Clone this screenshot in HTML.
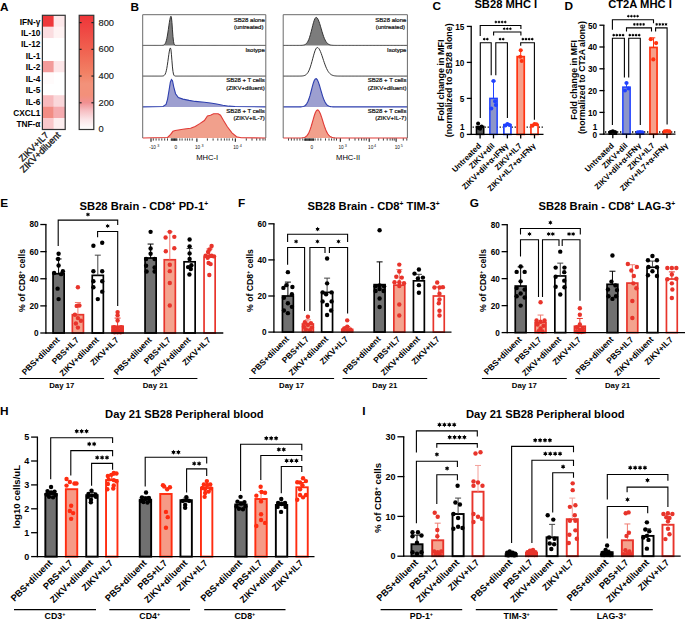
<!DOCTYPE html>
<html><head><meta charset="utf-8"><style>
html,body{margin:0;padding:0;background:#fff;}
svg{display:block;}
text{font-family:"Liberation Sans", sans-serif;}
</style></head><body>
<svg width="685" height="619" viewBox="0 0 685 619" font-family='"Liberation Sans", sans-serif'>
<rect width="685" height="619" fill="#fff"/>
<text x="0" y="10.5" font-size="11.8" font-weight="bold" text-anchor="start" fill="#000">A</text>
<rect x="42.4" y="15.3" width="11.4" height="11.62" fill="#ee383b" stroke="none" stroke-width="1.2"/>
<rect x="53.8" y="15.3" width="11.4" height="11.62" fill="#fde8ea" stroke="none" stroke-width="1.2"/>
<text x="40.4" y="24.61" font-size="8.3" font-weight="bold" text-anchor="end" fill="#000">IFN-γ</text>
<rect x="42.4" y="26.72" width="11.4" height="11.62" fill="#fbdde0" stroke="none" stroke-width="1.2"/>
<rect x="53.8" y="26.72" width="11.4" height="11.62" fill="#fff3f3" stroke="none" stroke-width="1.2"/>
<text x="40.4" y="36.03" font-size="8.3" font-weight="bold" text-anchor="end" fill="#000">IL-10</text>
<rect x="42.4" y="38.14" width="11.4" height="11.62" fill="#ffffff" stroke="none" stroke-width="1.2"/>
<rect x="53.8" y="38.14" width="11.4" height="11.62" fill="#ffffff" stroke="none" stroke-width="1.2"/>
<text x="40.4" y="47.45" font-size="8.3" font-weight="bold" text-anchor="end" fill="#000">IL-12</text>
<rect x="42.4" y="49.56" width="11.4" height="11.62" fill="#ffffff" stroke="none" stroke-width="1.2"/>
<rect x="53.8" y="49.56" width="11.4" height="11.62" fill="#ffffff" stroke="none" stroke-width="1.2"/>
<text x="40.4" y="58.87" font-size="8.3" font-weight="bold" text-anchor="end" fill="#000">IL-1</text>
<rect x="42.4" y="60.98" width="11.4" height="11.62" fill="#f39b9a" stroke="none" stroke-width="1.2"/>
<rect x="53.8" y="60.98" width="11.4" height="11.62" fill="#fde6e8" stroke="none" stroke-width="1.2"/>
<text x="40.4" y="70.29" font-size="8.3" font-weight="bold" text-anchor="end" fill="#000">IL-2</text>
<rect x="42.4" y="72.4" width="11.4" height="11.62" fill="#fffbfb" stroke="none" stroke-width="1.2"/>
<rect x="53.8" y="72.4" width="11.4" height="11.62" fill="#ffffff" stroke="none" stroke-width="1.2"/>
<text x="40.4" y="81.71" font-size="8.3" font-weight="bold" text-anchor="end" fill="#000">IL-4</text>
<rect x="42.4" y="83.82" width="11.4" height="11.62" fill="#ffffff" stroke="none" stroke-width="1.2"/>
<rect x="53.8" y="83.82" width="11.4" height="11.62" fill="#ffffff" stroke="none" stroke-width="1.2"/>
<text x="40.4" y="93.13" font-size="8.3" font-weight="bold" text-anchor="end" fill="#000">IL-5</text>
<rect x="42.4" y="95.24" width="11.4" height="11.62" fill="#f7b9bc" stroke="none" stroke-width="1.2"/>
<rect x="53.8" y="95.24" width="11.4" height="11.62" fill="#fad7da" stroke="none" stroke-width="1.2"/>
<text x="40.4" y="104.55" font-size="8.3" font-weight="bold" text-anchor="end" fill="#000">IL-6</text>
<rect x="42.4" y="106.66" width="11.4" height="11.62" fill="#f28c84" stroke="none" stroke-width="1.2"/>
<rect x="53.8" y="106.66" width="11.4" height="11.62" fill="#f5abaf" stroke="none" stroke-width="1.2"/>
<text x="40.4" y="115.97" font-size="8.3" font-weight="bold" text-anchor="end" fill="#000">CXCL1</text>
<rect x="42.4" y="118.08" width="11.4" height="11.62" fill="#f9c7ca" stroke="none" stroke-width="1.2"/>
<rect x="53.8" y="118.08" width="11.4" height="11.62" fill="#fdeeef" stroke="none" stroke-width="1.2"/>
<text x="40.4" y="127.39" font-size="8.3" font-weight="bold" text-anchor="end" fill="#000">TNF-α</text>
<rect x="42.4" y="15.3" width="22.8" height="114.2" fill="none" stroke="#333" stroke-width="1.2"/>
<text x="49.3" y="135.6" font-size="9.0" font-weight="normal" text-anchor="end" fill="#1a1a1a" transform="rotate(-45 49.3 135.6)" stroke="#1a1a1a" stroke-width="0.35">ZIKV+IL7</text>
<text x="61.1" y="135.8" font-size="9.2" font-weight="normal" text-anchor="end" fill="#1a1a1a" transform="rotate(-45 61.1 135.8)" stroke="#1a1a1a" stroke-width="0.35">ZIKV+diluent</text>
<defs><linearGradient id="cb" x1="0" y1="1" x2="0" y2="0"><stop offset="0" stop-color="#ffffff"/><stop offset="0.09" stop-color="#fbe3e6"/><stop offset="0.17" stop-color="#f6bcc0"/><stop offset="0.235" stop-color="#f19092"/><stop offset="0.3" stop-color="#f3907a"/><stop offset="0.4" stop-color="#f3927a"/><stop offset="0.5" stop-color="#f28064"/><stop offset="0.72" stop-color="#f05e4e"/><stop offset="0.9" stop-color="#ef4341"/><stop offset="1" stop-color="#ee3538"/></linearGradient></defs>
<rect x="79.2" y="15.3" width="14.6" height="114.2" fill="url(#cb)" stroke="#333" stroke-width="1.2"/>
<text x="98.5" y="131.8" font-size="9.3" font-weight="normal" text-anchor="start" fill="#1a1a1a" stroke="#1a1a1a" stroke-width="0.15">0</text>
<line x1="79.2" y1="102.78" x2="81.6" y2="102.78" stroke="#222" stroke-width="1.2"/>
<line x1="91.4" y1="102.78" x2="93.8" y2="102.78" stroke="#222" stroke-width="1.2"/>
<text x="98.5" y="105.88" font-size="9.3" font-weight="normal" text-anchor="start" fill="#1a1a1a" stroke="#1a1a1a" stroke-width="0.15">200</text>
<line x1="79.2" y1="76.05" x2="81.6" y2="76.05" stroke="#222" stroke-width="1.2"/>
<line x1="91.4" y1="76.05" x2="93.8" y2="76.05" stroke="#222" stroke-width="1.2"/>
<text x="98.5" y="79.15" font-size="9.3" font-weight="normal" text-anchor="start" fill="#1a1a1a" stroke="#1a1a1a" stroke-width="0.15">400</text>
<line x1="79.2" y1="49.33" x2="81.6" y2="49.33" stroke="#222" stroke-width="1.2"/>
<line x1="91.4" y1="49.33" x2="93.8" y2="49.33" stroke="#222" stroke-width="1.2"/>
<text x="98.5" y="52.43" font-size="9.3" font-weight="normal" text-anchor="start" fill="#1a1a1a" stroke="#1a1a1a" stroke-width="0.15">600</text>
<line x1="79.2" y1="22.6" x2="81.6" y2="22.6" stroke="#222" stroke-width="1.2"/>
<line x1="91.4" y1="22.6" x2="93.8" y2="22.6" stroke="#222" stroke-width="1.2"/>
<text x="98.5" y="25.7" font-size="9.3" font-weight="normal" text-anchor="start" fill="#1a1a1a" stroke="#1a1a1a" stroke-width="0.15">800</text>
<text x="130.5" y="10.5" font-size="11.8" font-weight="bold" text-anchor="start" fill="#000">B</text>
<path d="M142.7 45.4 L142.7 45.4 L143.21 45.4 L143.73 45.4 L144.24 45.4 L144.75 45.4 L145.26 45.4 L145.78 45.4 L146.29 45.4 L146.8 45.4 L147.32 45.4 L147.83 45.4 L148.34 45.4 L148.85 45.4 L149.37 45.4 L149.88 45.4 L150.39 45.4 L150.91 45.4 L151.42 45.4 L151.93 45.4 L152.45 45.4 L152.96 45.4 L153.47 45.4 L153.98 45.4 L154.5 45.4 L155.01 45.4 L155.52 45.4 L156.04 45.4 L156.55 45.4 L157.06 45.4 L157.57 45.4 L158.09 45.4 L158.6 45.4 L159.11 45.4 L159.63 45.4 L160.14 45.4 L160.65 45.4 L161.16 45.39 L161.68 45.38 L162.19 45.35 L162.7 45.3 L163.22 45.2 L163.73 45.02 L164.24 44.72 L164.76 44.23 L165.27 43.48 L165.78 42.36 L166.29 40.8 L166.81 38.72 L167.32 36.09 L167.83 32.97 L168.35 29.48 L168.86 25.86 L169.37 22.41 L169.88 19.45 L170.4 17.33 L170.91 16.28 L171.42 17.24 L171.94 22.5 L172.45 29.88 L172.96 36.64 L173.47 41.28 L173.99 43.79 L174.5 44.87 L175.01 45.26 L175.53 45.37 L176.04 45.39 L176.55 45.4 L177.07 45.4 L177.58 45.4 L178.09 45.4 L178.6 45.4 L179.12 45.4 L179.63 45.4 L180.14 45.4 L180.66 45.4 L181.17 45.4 L181.68 45.4 L182.19 45.4 L182.71 45.4 L183.22 45.4 L183.73 45.4 L184.25 45.4 L184.76 45.4 L185.27 45.4 L185.78 45.4 L186.3 45.4 L186.81 45.4 L187.32 45.4 L187.84 45.4 L188.35 45.4 L188.86 45.4 L189.38 45.4 L189.89 45.4 L190.4 45.4 L190.91 45.4 L191.43 45.4 L191.94 45.4 L192.45 45.4 L192.97 45.4 L193.48 45.4 L193.99 45.4 L194.5 45.4 L195.02 45.4 L195.53 45.4 L196.04 45.4 L196.56 45.4 L197.07 45.4 L197.58 45.4 L198.09 45.4 L198.61 45.4 L199.12 45.4 L199.63 45.4 L200.15 45.4 L200.66 45.4 L201.17 45.4 L201.69 45.4 L202.2 45.4 L202.71 45.4 L203.22 45.4 L203.74 45.4 L204.25 45.4 L204.76 45.4 L205.28 45.4 L205.79 45.4 L206.3 45.4 L206.81 45.4 L207.33 45.4 L207.84 45.4 L208.35 45.4 L208.87 45.4 L209.38 45.4 L209.89 45.4 L210.41 45.4 L210.92 45.4 L211.43 45.4 L211.94 45.4 L212.46 45.4 L212.97 45.4 L213.48 45.4 L214 45.4 L214.51 45.4 L215.02 45.4 L215.53 45.4 L216.05 45.4 L216.56 45.4 L217.07 45.4 L217.59 45.4 L218.1 45.4 L218.61 45.4 L219.12 45.4 L219.64 45.4 L220.15 45.4 L220.66 45.4 L221.18 45.4 L221.69 45.4 L222.2 45.4 L222.72 45.4 L223.23 45.4 L223.74 45.4 L224.25 45.4 L224.77 45.4 L225.28 45.4 L225.79 45.4 L226.31 45.4 L226.82 45.4 L227.33 45.4 L227.84 45.4 L228.36 45.4 L228.87 45.4 L229.38 45.4 L229.9 45.4 L230.41 45.4 L230.92 45.4 L231.43 45.4 L231.95 45.4 L232.46 45.4 L232.97 45.4 L233.49 45.4 L234 45.4 L234.51 45.4 L235.03 45.4 L235.54 45.4 L236.05 45.4 L236.56 45.4 L237.08 45.4 L237.59 45.4 L238.1 45.4 L238.62 45.4 L239.13 45.4 L239.64 45.4 L240.15 45.4 L240.67 45.4 L241.18 45.4 L241.69 45.4 L242.21 45.4 L242.72 45.4 L243.23 45.4 L243.74 45.4 L244.26 45.4 L244.77 45.4 L245.28 45.4 L245.8 45.4 L246.31 45.4 L246.82 45.4 L247.34 45.4 L247.85 45.4 L248.36 45.4 L248.87 45.4 L249.39 45.4 L249.9 45.4 L250.41 45.4 L250.93 45.4 L251.44 45.4 L251.95 45.4 L252.46 45.4 L252.98 45.4 L253.49 45.4 L254 45.4 L254.52 45.4 L255.03 45.4 L255.54 45.4 L256.05 45.4 L256.57 45.4 L257.08 45.4 L257.59 45.4 L258.11 45.4 L258.62 45.4 L259.13 45.4 L259.64 45.4 L260.16 45.4 L260.67 45.4 L261.18 45.4 L261.7 45.4 L262.21 45.4 L262.72 45.4 L263.24 45.4 L263.75 45.4 L264.26 45.4 L264.77 45.4 L265.29 45.4 L265.8 45.4 L265.8 45.4 Z" fill="#7c7c7c" stroke="none"/>
<path d="M142.7 45.4 L142.7 45.4 L143.21 45.4 L143.73 45.4 L144.24 45.4 L144.75 45.4 L145.26 45.4 L145.78 45.4 L146.29 45.4 L146.8 45.4 L147.32 45.4 L147.83 45.4 L148.34 45.4 L148.85 45.4 L149.37 45.4 L149.88 45.4 L150.39 45.4 L150.91 45.4 L151.42 45.4 L151.93 45.4 L152.45 45.4 L152.96 45.4 L153.47 45.4 L153.98 45.4 L154.5 45.4 L155.01 45.4 L155.52 45.4 L156.04 45.4 L156.55 45.4 L157.06 45.4 L157.57 45.4 L158.09 45.4 L158.6 45.4 L159.11 45.4 L159.63 45.4 L160.14 45.4 L160.65 45.4 L161.16 45.39 L161.68 45.38 L162.19 45.35 L162.7 45.3 L163.22 45.2 L163.73 45.02 L164.24 44.72 L164.76 44.23 L165.27 43.48 L165.78 42.36 L166.29 40.8 L166.81 38.72 L167.32 36.09 L167.83 32.97 L168.35 29.48 L168.86 25.86 L169.37 22.41 L169.88 19.45 L170.4 17.33 L170.91 16.28 L171.42 17.24 L171.94 22.5 L172.45 29.88 L172.96 36.64 L173.47 41.28 L173.99 43.79 L174.5 44.87 L175.01 45.26 L175.53 45.37 L176.04 45.39 L176.55 45.4 L177.07 45.4 L177.58 45.4 L178.09 45.4 L178.6 45.4 L179.12 45.4 L179.63 45.4 L180.14 45.4 L180.66 45.4 L181.17 45.4 L181.68 45.4 L182.19 45.4 L182.71 45.4 L183.22 45.4 L183.73 45.4 L184.25 45.4 L184.76 45.4 L185.27 45.4 L185.78 45.4 L186.3 45.4 L186.81 45.4 L187.32 45.4 L187.84 45.4 L188.35 45.4 L188.86 45.4 L189.38 45.4 L189.89 45.4 L190.4 45.4 L190.91 45.4 L191.43 45.4 L191.94 45.4 L192.45 45.4 L192.97 45.4 L193.48 45.4 L193.99 45.4 L194.5 45.4 L195.02 45.4 L195.53 45.4 L196.04 45.4 L196.56 45.4 L197.07 45.4 L197.58 45.4 L198.09 45.4 L198.61 45.4 L199.12 45.4 L199.63 45.4 L200.15 45.4 L200.66 45.4 L201.17 45.4 L201.69 45.4 L202.2 45.4 L202.71 45.4 L203.22 45.4 L203.74 45.4 L204.25 45.4 L204.76 45.4 L205.28 45.4 L205.79 45.4 L206.3 45.4 L206.81 45.4 L207.33 45.4 L207.84 45.4 L208.35 45.4 L208.87 45.4 L209.38 45.4 L209.89 45.4 L210.41 45.4 L210.92 45.4 L211.43 45.4 L211.94 45.4 L212.46 45.4 L212.97 45.4 L213.48 45.4 L214 45.4 L214.51 45.4 L215.02 45.4 L215.53 45.4 L216.05 45.4 L216.56 45.4 L217.07 45.4 L217.59 45.4 L218.1 45.4 L218.61 45.4 L219.12 45.4 L219.64 45.4 L220.15 45.4 L220.66 45.4 L221.18 45.4 L221.69 45.4 L222.2 45.4 L222.72 45.4 L223.23 45.4 L223.74 45.4 L224.25 45.4 L224.77 45.4 L225.28 45.4 L225.79 45.4 L226.31 45.4 L226.82 45.4 L227.33 45.4 L227.84 45.4 L228.36 45.4 L228.87 45.4 L229.38 45.4 L229.9 45.4 L230.41 45.4 L230.92 45.4 L231.43 45.4 L231.95 45.4 L232.46 45.4 L232.97 45.4 L233.49 45.4 L234 45.4 L234.51 45.4 L235.03 45.4 L235.54 45.4 L236.05 45.4 L236.56 45.4 L237.08 45.4 L237.59 45.4 L238.1 45.4 L238.62 45.4 L239.13 45.4 L239.64 45.4 L240.15 45.4 L240.67 45.4 L241.18 45.4 L241.69 45.4 L242.21 45.4 L242.72 45.4 L243.23 45.4 L243.74 45.4 L244.26 45.4 L244.77 45.4 L245.28 45.4 L245.8 45.4 L246.31 45.4 L246.82 45.4 L247.34 45.4 L247.85 45.4 L248.36 45.4 L248.87 45.4 L249.39 45.4 L249.9 45.4 L250.41 45.4 L250.93 45.4 L251.44 45.4 L251.95 45.4 L252.46 45.4 L252.98 45.4 L253.49 45.4 L254 45.4 L254.52 45.4 L255.03 45.4 L255.54 45.4 L256.05 45.4 L256.57 45.4 L257.08 45.4 L257.59 45.4 L258.11 45.4 L258.62 45.4 L259.13 45.4 L259.64 45.4 L260.16 45.4 L260.67 45.4 L261.18 45.4 L261.7 45.4 L262.21 45.4 L262.72 45.4 L263.24 45.4 L263.75 45.4 L264.26 45.4 L264.77 45.4 L265.29 45.4 L265.8 45.4 L265.8 45.4" fill="none" stroke="#333" stroke-width="1.0"/>
<text x="264.8" y="21.5" font-size="6.0" font-weight="normal" text-anchor="end" fill="#111" stroke="#111" stroke-width="0.22">SB28 alone</text>
<text x="263.4" y="28.6" font-size="6.0" font-weight="normal" text-anchor="end" fill="#111" stroke="#111" stroke-width="0.22">(untreated)</text>
<path d="M142.7 76.1 L142.7 76.1 L143.21 76.1 L143.73 76.1 L144.24 76.1 L144.75 76.1 L145.26 76.1 L145.78 76.1 L146.29 76.1 L146.8 76.1 L147.32 76.1 L147.83 76.1 L148.34 76.1 L148.85 76.1 L149.37 76.1 L149.88 76.1 L150.39 76.1 L150.91 76.1 L151.42 76.1 L151.93 76.1 L152.45 76.1 L152.96 76.1 L153.47 76.1 L153.98 76.1 L154.5 76.1 L155.01 76.1 L155.52 76.1 L156.04 76.1 L156.55 76.1 L157.06 76.1 L157.57 76.1 L158.09 76.1 L158.6 76.1 L159.11 76.1 L159.63 76.1 L160.14 76.1 L160.65 76.1 L161.16 76.09 L161.68 76.08 L162.19 76.06 L162.7 76.01 L163.22 75.91 L163.73 75.73 L164.24 75.4 L164.76 74.85 L165.27 73.98 L165.78 72.66 L166.29 70.8 L166.81 68.33 L167.32 65.26 L167.83 61.7 L168.35 57.91 L168.86 54.24 L169.37 51.1 L169.88 48.89 L170.4 47.93 L170.91 49.27 L171.42 54.19 L171.94 60.78 L172.45 66.94 L172.96 71.41 L173.47 74.04 L173.99 75.33 L174.5 75.85 L175.01 76.03 L175.53 76.08 L176.04 76.1 L176.55 76.1 L177.07 76.1 L177.58 76.1 L178.09 76.1 L178.6 76.1 L179.12 76.1 L179.63 76.1 L180.14 76.1 L180.66 76.1 L181.17 76.1 L181.68 76.1 L182.19 76.1 L182.71 76.1 L183.22 76.1 L183.73 76.1 L184.25 76.1 L184.76 76.1 L185.27 76.1 L185.78 76.1 L186.3 76.1 L186.81 76.1 L187.32 76.1 L187.84 76.1 L188.35 76.1 L188.86 76.1 L189.38 76.1 L189.89 76.1 L190.4 76.1 L190.91 76.1 L191.43 76.1 L191.94 76.1 L192.45 76.1 L192.97 76.1 L193.48 76.1 L193.99 76.1 L194.5 76.1 L195.02 76.1 L195.53 76.1 L196.04 76.1 L196.56 76.1 L197.07 76.1 L197.58 76.1 L198.09 76.1 L198.61 76.1 L199.12 76.1 L199.63 76.1 L200.15 76.1 L200.66 76.1 L201.17 76.1 L201.69 76.1 L202.2 76.1 L202.71 76.1 L203.22 76.1 L203.74 76.1 L204.25 76.1 L204.76 76.1 L205.28 76.1 L205.79 76.1 L206.3 76.1 L206.81 76.1 L207.33 76.1 L207.84 76.1 L208.35 76.1 L208.87 76.1 L209.38 76.1 L209.89 76.1 L210.41 76.1 L210.92 76.1 L211.43 76.1 L211.94 76.1 L212.46 76.1 L212.97 76.1 L213.48 76.1 L214 76.1 L214.51 76.1 L215.02 76.1 L215.53 76.1 L216.05 76.1 L216.56 76.1 L217.07 76.1 L217.59 76.1 L218.1 76.1 L218.61 76.1 L219.12 76.1 L219.64 76.1 L220.15 76.1 L220.66 76.1 L221.18 76.1 L221.69 76.1 L222.2 76.1 L222.72 76.1 L223.23 76.1 L223.74 76.1 L224.25 76.1 L224.77 76.1 L225.28 76.1 L225.79 76.1 L226.31 76.1 L226.82 76.1 L227.33 76.1 L227.84 76.1 L228.36 76.1 L228.87 76.1 L229.38 76.1 L229.9 76.1 L230.41 76.1 L230.92 76.1 L231.43 76.1 L231.95 76.1 L232.46 76.1 L232.97 76.1 L233.49 76.1 L234 76.1 L234.51 76.1 L235.03 76.1 L235.54 76.1 L236.05 76.1 L236.56 76.1 L237.08 76.1 L237.59 76.1 L238.1 76.1 L238.62 76.1 L239.13 76.1 L239.64 76.1 L240.15 76.1 L240.67 76.1 L241.18 76.1 L241.69 76.1 L242.21 76.1 L242.72 76.1 L243.23 76.1 L243.74 76.1 L244.26 76.1 L244.77 76.1 L245.28 76.1 L245.8 76.1 L246.31 76.1 L246.82 76.1 L247.34 76.1 L247.85 76.1 L248.36 76.1 L248.87 76.1 L249.39 76.1 L249.9 76.1 L250.41 76.1 L250.93 76.1 L251.44 76.1 L251.95 76.1 L252.46 76.1 L252.98 76.1 L253.49 76.1 L254 76.1 L254.52 76.1 L255.03 76.1 L255.54 76.1 L256.05 76.1 L256.57 76.1 L257.08 76.1 L257.59 76.1 L258.11 76.1 L258.62 76.1 L259.13 76.1 L259.64 76.1 L260.16 76.1 L260.67 76.1 L261.18 76.1 L261.7 76.1 L262.21 76.1 L262.72 76.1 L263.24 76.1 L263.75 76.1 L264.26 76.1 L264.77 76.1 L265.29 76.1 L265.8 76.1 L265.8 76.1" fill="none" stroke="#333" stroke-width="1.0"/>
<text x="264.8" y="52" font-size="6.0" font-weight="normal" text-anchor="end" fill="#111" stroke="#111" stroke-width="0.22">Isotype</text>
<path d="M142.7 106.9 L162.99 106.48 L166.06 104.49 L167.59 99.12 L169.12 89.93 L170.35 82.26 L171.42 79.5 L172.5 80.73 L173.72 86.86 L175.56 93.76 L178.32 97.59 L182.92 99.12 L189.05 100.35 L195.18 101.42 L204.38 102.19 L210.51 102.96 L216.64 104.03 L222.77 105.25 L228.9 106.17 L235.03 106.48 L265.8 106.9 Z" fill="#9d9fd0" stroke="none"/>
<path d="M142.7 106.9 L162.99 106.48 L166.06 104.49 L167.59 99.12 L169.12 89.93 L170.35 82.26 L171.42 79.5 L172.5 80.73 L173.72 86.86 L175.56 93.76 L178.32 97.59 L182.92 99.12 L189.05 100.35 L195.18 101.42 L204.38 102.19 L210.51 102.96 L216.64 104.03 L222.77 105.25 L228.9 106.17 L235.03 106.48 L265.8 106.9" fill="none" stroke="#2e3fae" stroke-width="1.1"/>
<text x="264.8" y="82.3" font-size="6.0" font-weight="normal" text-anchor="end" fill="#111" stroke="#111" stroke-width="0.22">SB28 + T cells</text>
<text x="264.8" y="89.5" font-size="6.0" font-weight="normal" text-anchor="end" fill="#111" stroke="#111" stroke-width="0.22">(ZIKV+diluent)</text>
<path d="M142.7 138 L167.59 137.44 L170.66 134.38 L172.96 131.31 L175.25 130.55 L179.85 129.78 L184.45 129.01 L190.58 128.25 L195.18 126.41 L199.78 123.65 L204.38 120.58 L207.44 115.98 L210.51 115.22 L213.57 113.68 L218.17 113.68 L220.47 115.22 L223.54 120.58 L227.37 126.71 L231.97 132.84 L236.57 136.68 L241.16 137.75 L265.8 138 Z" fill="#f1a08c" stroke="none"/>
<path d="M142.7 138 L167.59 137.44 L170.66 134.38 L172.96 131.31 L175.25 130.55 L179.85 129.78 L184.45 129.01 L190.58 128.25 L195.18 126.41 L199.78 123.65 L204.38 120.58 L207.44 115.98 L210.51 115.22 L213.57 113.68 L218.17 113.68 L220.47 115.22 L223.54 120.58 L227.37 126.71 L231.97 132.84 L236.57 136.68 L241.16 137.75 L265.8 138" fill="none" stroke="#e03a36" stroke-width="1.1"/>
<text x="264.8" y="113.3" font-size="6.0" font-weight="normal" text-anchor="end" fill="#111" stroke="#111" stroke-width="0.22">SB28 + T cells</text>
<text x="264.8" y="120.3" font-size="6.0" font-weight="normal" text-anchor="end" fill="#111" stroke="#111" stroke-width="0.22">(ZIKV+IL-7)</text>
<path d="M142.7 138 L142.7 14.7 L265.8 14.7 L265.8 138" fill="none" stroke="#6a6a6a" stroke-width="1.0"/>
<text x="207.2" y="159.5" font-size="7.6" font-weight="normal" text-anchor="middle" fill="#000">MHC-I</text>
<line x1="151" y1="138.4" x2="151" y2="141.8" stroke="#000" stroke-width="1.0"/>
<line x1="196.9" y1="138.4" x2="196.9" y2="141.8" stroke="#000" stroke-width="1.0"/>
<line x1="235.3" y1="138.4" x2="235.3" y2="141.8" stroke="#000" stroke-width="1.0"/>
<line x1="153.3" y1="138.4" x2="153.3" y2="140.6" stroke="#111" stroke-width="0.8"/>
<line x1="156.1" y1="138.4" x2="156.1" y2="140.6" stroke="#111" stroke-width="0.8"/>
<line x1="159" y1="138.4" x2="159" y2="140.6" stroke="#111" stroke-width="0.8"/>
<line x1="161.8" y1="138.4" x2="161.8" y2="140.6" stroke="#111" stroke-width="0.8"/>
<line x1="164.7" y1="138.4" x2="164.7" y2="140.6" stroke="#111" stroke-width="0.8"/>
<line x1="167.5" y1="138.4" x2="167.5" y2="140.6" stroke="#111" stroke-width="0.8"/>
<line x1="179.8" y1="138.4" x2="179.8" y2="140.6" stroke="#111" stroke-width="0.8"/>
<line x1="182.1" y1="138.4" x2="182.1" y2="140.6" stroke="#111" stroke-width="0.8"/>
<line x1="185.2" y1="138.4" x2="185.2" y2="140.6" stroke="#111" stroke-width="0.8"/>
<line x1="187.4" y1="138.4" x2="187.4" y2="140.6" stroke="#111" stroke-width="0.8"/>
<line x1="189.7" y1="138.4" x2="189.7" y2="140.6" stroke="#111" stroke-width="0.8"/>
<line x1="192.2" y1="138.4" x2="192.2" y2="140.6" stroke="#111" stroke-width="0.8"/>
<line x1="207.4" y1="138.4" x2="207.4" y2="140.6" stroke="#111" stroke-width="0.8"/>
<line x1="213.1" y1="138.4" x2="213.1" y2="140.6" stroke="#111" stroke-width="0.8"/>
<line x1="217.8" y1="138.4" x2="217.8" y2="140.6" stroke="#111" stroke-width="0.8"/>
<line x1="221.2" y1="138.4" x2="221.2" y2="140.6" stroke="#111" stroke-width="0.8"/>
<line x1="224.4" y1="138.4" x2="224.4" y2="140.6" stroke="#111" stroke-width="0.8"/>
<line x1="226.9" y1="138.4" x2="226.9" y2="140.6" stroke="#111" stroke-width="0.8"/>
<line x1="229.2" y1="138.4" x2="229.2" y2="140.6" stroke="#111" stroke-width="0.8"/>
<line x1="232.6" y1="138.4" x2="232.6" y2="140.6" stroke="#111" stroke-width="0.8"/>
<line x1="246.3" y1="138.4" x2="246.3" y2="140.6" stroke="#111" stroke-width="0.8"/>
<line x1="252" y1="138.4" x2="252" y2="140.6" stroke="#111" stroke-width="0.8"/>
<line x1="256.7" y1="138.4" x2="256.7" y2="140.6" stroke="#111" stroke-width="0.8"/>
<line x1="259.9" y1="138.4" x2="259.9" y2="140.6" stroke="#111" stroke-width="0.8"/>
<line x1="263" y1="138.4" x2="263" y2="140.6" stroke="#111" stroke-width="0.8"/>
<line x1="265.2" y1="138.4" x2="265.2" y2="140.6" stroke="#111" stroke-width="0.8"/>
<line x1="171.3" y1="138.4" x2="171.3" y2="140.8" stroke="#000" stroke-width="0.8"/>
<line x1="172.1" y1="138.4" x2="172.1" y2="140.8" stroke="#000" stroke-width="0.8"/>
<line x1="172.9" y1="138.4" x2="172.9" y2="140.8" stroke="#000" stroke-width="0.8"/>
<line x1="173.7" y1="138.4" x2="173.7" y2="140.8" stroke="#000" stroke-width="0.8"/>
<line x1="174.5" y1="138.4" x2="174.5" y2="140.8" stroke="#000" stroke-width="0.8"/>
<line x1="175.3" y1="138.4" x2="175.3" y2="140.8" stroke="#000" stroke-width="0.8"/>
<line x1="176.1" y1="138.4" x2="176.1" y2="140.8" stroke="#000" stroke-width="0.8"/>
<line x1="176.9" y1="138.4" x2="176.9" y2="140.8" stroke="#000" stroke-width="0.8"/>
<text x="152.6" y="149" font-size="4.7" font-weight="normal" text-anchor="middle" fill="#111">-10</text>
<text x="158.4" y="146.9" font-size="3.7" font-weight="normal" text-anchor="middle" fill="#111">3</text>
<text x="175.7" y="149" font-size="4.7" font-weight="normal" text-anchor="middle" fill="#111">0</text>
<text x="197.6" y="149" font-size="4.7" font-weight="normal" text-anchor="middle" fill="#111">10</text>
<text x="202.5" y="146.9" font-size="3.7" font-weight="normal" text-anchor="middle" fill="#111">3</text>
<text x="235.8" y="149" font-size="4.7" font-weight="normal" text-anchor="middle" fill="#111">10</text>
<text x="240.8" y="146.9" font-size="3.7" font-weight="normal" text-anchor="middle" fill="#111">4</text>
<path d="M283.2 45.4 L283.2 45.4 L283.98 45.4 L284.75 45.4 L285.53 45.4 L286.31 45.4 L287.08 45.4 L287.86 45.4 L288.63 45.4 L289.41 45.4 L290.19 45.4 L290.96 45.4 L291.74 45.4 L292.51 45.4 L293.29 45.4 L294.07 45.4 L294.84 45.4 L295.62 45.4 L296.4 45.4 L297.17 45.4 L297.95 45.4 L298.72 45.4 L299.5 45.39 L300.28 45.38 L301.05 45.36 L301.83 45.32 L302.61 45.25 L303.38 45.13 L304.16 44.94 L304.94 44.63 L305.71 44.16 L306.49 43.47 L307.26 42.49 L308.04 41.16 L308.82 39.43 L309.59 37.28 L310.37 34.72 L311.14 31.83 L311.92 28.74 L312.7 25.62 L313.47 22.72 L314.25 20.26 L315.03 18.47 L315.8 17.53 L316.58 17.48 L317.35 18.17 L318.13 19.49 L318.91 21.36 L319.68 23.65 L320.46 26.21 L321.24 28.89 L322.01 31.55 L322.79 34.06 L323.56 36.35 L324.34 38.36 L325.12 40.05 L325.89 41.44 L326.67 42.54 L327.45 43.39 L328.22 44.02 L329 44.48 L329.77 44.8 L330.55 45.02 L331.33 45.16 L332.1 45.26 L332.88 45.31 L333.66 45.35 L334.43 45.37 L335.21 45.38 L335.98 45.39 L336.76 45.4 L337.54 45.4 L338.31 45.4 L339.09 45.4 L339.87 45.4 L340.64 45.4 L341.42 45.4 L342.19 45.4 L342.97 45.4 L343.75 45.4 L344.52 45.4 L345.3 45.4 L346.08 45.4 L346.85 45.4 L347.63 45.4 L348.4 45.4 L349.18 45.4 L349.96 45.4 L350.73 45.4 L351.51 45.4 L352.29 45.4 L353.06 45.4 L353.84 45.4 L354.62 45.4 L355.39 45.4 L356.17 45.4 L356.94 45.4 L357.72 45.4 L358.5 45.4 L359.27 45.4 L360.05 45.4 L360.82 45.4 L361.6 45.4 L362.38 45.4 L363.15 45.4 L363.93 45.4 L364.71 45.4 L365.48 45.4 L366.26 45.4 L367.03 45.4 L367.81 45.4 L368.59 45.4 L369.36 45.4 L370.14 45.4 L370.92 45.4 L371.69 45.4 L372.47 45.4 L373.25 45.4 L374.02 45.4 L374.8 45.4 L375.57 45.4 L376.35 45.4 L377.13 45.4 L377.9 45.4 L378.68 45.4 L379.45 45.4 L380.23 45.4 L381.01 45.4 L381.78 45.4 L382.56 45.4 L383.34 45.4 L384.11 45.4 L384.89 45.4 L385.66 45.4 L386.44 45.4 L387.22 45.4 L387.99 45.4 L388.77 45.4 L389.55 45.4 L390.32 45.4 L391.1 45.4 L391.88 45.4 L392.65 45.4 L393.43 45.4 L394.2 45.4 L394.98 45.4 L395.76 45.4 L396.53 45.4 L397.31 45.4 L398.08 45.4 L398.86 45.4 L399.64 45.4 L400.41 45.4 L401.19 45.4 L401.97 45.4 L402.74 45.4 L403.52 45.4 L404.29 45.4 L405.07 45.4 L405.85 45.4 L406.62 45.4 L407.4 45.4 L407.4 45.4 Z" fill="#7c7c7c" stroke="none"/>
<path d="M283.2 45.4 L283.2 45.4 L283.98 45.4 L284.75 45.4 L285.53 45.4 L286.31 45.4 L287.08 45.4 L287.86 45.4 L288.63 45.4 L289.41 45.4 L290.19 45.4 L290.96 45.4 L291.74 45.4 L292.51 45.4 L293.29 45.4 L294.07 45.4 L294.84 45.4 L295.62 45.4 L296.4 45.4 L297.17 45.4 L297.95 45.4 L298.72 45.4 L299.5 45.39 L300.28 45.38 L301.05 45.36 L301.83 45.32 L302.61 45.25 L303.38 45.13 L304.16 44.94 L304.94 44.63 L305.71 44.16 L306.49 43.47 L307.26 42.49 L308.04 41.16 L308.82 39.43 L309.59 37.28 L310.37 34.72 L311.14 31.83 L311.92 28.74 L312.7 25.62 L313.47 22.72 L314.25 20.26 L315.03 18.47 L315.8 17.53 L316.58 17.48 L317.35 18.17 L318.13 19.49 L318.91 21.36 L319.68 23.65 L320.46 26.21 L321.24 28.89 L322.01 31.55 L322.79 34.06 L323.56 36.35 L324.34 38.36 L325.12 40.05 L325.89 41.44 L326.67 42.54 L327.45 43.39 L328.22 44.02 L329 44.48 L329.77 44.8 L330.55 45.02 L331.33 45.16 L332.1 45.26 L332.88 45.31 L333.66 45.35 L334.43 45.37 L335.21 45.38 L335.98 45.39 L336.76 45.4 L337.54 45.4 L338.31 45.4 L339.09 45.4 L339.87 45.4 L340.64 45.4 L341.42 45.4 L342.19 45.4 L342.97 45.4 L343.75 45.4 L344.52 45.4 L345.3 45.4 L346.08 45.4 L346.85 45.4 L347.63 45.4 L348.4 45.4 L349.18 45.4 L349.96 45.4 L350.73 45.4 L351.51 45.4 L352.29 45.4 L353.06 45.4 L353.84 45.4 L354.62 45.4 L355.39 45.4 L356.17 45.4 L356.94 45.4 L357.72 45.4 L358.5 45.4 L359.27 45.4 L360.05 45.4 L360.82 45.4 L361.6 45.4 L362.38 45.4 L363.15 45.4 L363.93 45.4 L364.71 45.4 L365.48 45.4 L366.26 45.4 L367.03 45.4 L367.81 45.4 L368.59 45.4 L369.36 45.4 L370.14 45.4 L370.92 45.4 L371.69 45.4 L372.47 45.4 L373.25 45.4 L374.02 45.4 L374.8 45.4 L375.57 45.4 L376.35 45.4 L377.13 45.4 L377.9 45.4 L378.68 45.4 L379.45 45.4 L380.23 45.4 L381.01 45.4 L381.78 45.4 L382.56 45.4 L383.34 45.4 L384.11 45.4 L384.89 45.4 L385.66 45.4 L386.44 45.4 L387.22 45.4 L387.99 45.4 L388.77 45.4 L389.55 45.4 L390.32 45.4 L391.1 45.4 L391.88 45.4 L392.65 45.4 L393.43 45.4 L394.2 45.4 L394.98 45.4 L395.76 45.4 L396.53 45.4 L397.31 45.4 L398.08 45.4 L398.86 45.4 L399.64 45.4 L400.41 45.4 L401.19 45.4 L401.97 45.4 L402.74 45.4 L403.52 45.4 L404.29 45.4 L405.07 45.4 L405.85 45.4 L406.62 45.4 L407.4 45.4 L407.4 45.4" fill="none" stroke="#333" stroke-width="1.0"/>
<text x="406.4" y="21.5" font-size="6.0" font-weight="normal" text-anchor="end" fill="#111" stroke="#111" stroke-width="0.22">SB28 alone</text>
<text x="405" y="28.6" font-size="6.0" font-weight="normal" text-anchor="end" fill="#111" stroke="#111" stroke-width="0.22">(untreated)</text>
<path d="M283.2 76.1 L283.2 76.1 L283.98 76.1 L284.75 76.1 L285.53 76.1 L286.31 76.1 L287.08 76.1 L287.86 76.1 L288.63 76.1 L289.41 76.1 L290.19 76.1 L290.96 76.1 L291.74 76.1 L292.51 76.1 L293.29 76.1 L294.07 76.1 L294.84 76.1 L295.62 76.1 L296.4 76.1 L297.17 76.1 L297.95 76.1 L298.72 76.09 L299.5 76.08 L300.28 76.07 L301.05 76.04 L301.83 76 L302.61 75.93 L303.38 75.81 L304.16 75.62 L304.94 75.33 L305.71 74.9 L306.49 74.29 L307.26 73.45 L308.04 72.33 L308.82 70.88 L309.59 69.07 L310.37 66.91 L311.14 64.42 L311.92 61.66 L312.7 58.76 L313.47 55.86 L314.25 53.14 L315.03 50.79 L315.8 48.98 L316.58 47.85 L317.35 47.5 L318.13 47.8 L318.91 48.62 L319.68 49.89 L320.46 51.57 L321.24 53.57 L322.01 55.78 L322.79 58.11 L323.56 60.47 L324.34 62.76 L325.12 64.93 L325.89 66.92 L326.67 68.69 L327.45 70.23 L328.22 71.54 L329 72.62 L329.77 73.49 L330.55 74.18 L331.33 74.72 L332.1 75.12 L332.88 75.42 L333.66 75.63 L334.43 75.79 L335.21 75.89 L335.98 75.97 L336.76 76.02 L337.54 76.05 L338.31 76.07 L339.09 76.08 L339.87 76.09 L340.64 76.09 L341.42 76.1 L342.19 76.1 L342.97 76.1 L343.75 76.1 L344.52 76.1 L345.3 76.1 L346.08 76.1 L346.85 76.1 L347.63 76.1 L348.4 76.1 L349.18 76.1 L349.96 76.1 L350.73 76.1 L351.51 76.1 L352.29 76.1 L353.06 76.1 L353.84 76.1 L354.62 76.1 L355.39 76.1 L356.17 76.1 L356.94 76.1 L357.72 76.1 L358.5 76.1 L359.27 76.1 L360.05 76.1 L360.82 76.1 L361.6 76.1 L362.38 76.1 L363.15 76.1 L363.93 76.1 L364.71 76.1 L365.48 76.1 L366.26 76.1 L367.03 76.1 L367.81 76.1 L368.59 76.1 L369.36 76.1 L370.14 76.1 L370.92 76.1 L371.69 76.1 L372.47 76.1 L373.25 76.1 L374.02 76.1 L374.8 76.1 L375.57 76.1 L376.35 76.1 L377.13 76.1 L377.9 76.1 L378.68 76.1 L379.45 76.1 L380.23 76.1 L381.01 76.1 L381.78 76.1 L382.56 76.1 L383.34 76.1 L384.11 76.1 L384.89 76.1 L385.66 76.1 L386.44 76.1 L387.22 76.1 L387.99 76.1 L388.77 76.1 L389.55 76.1 L390.32 76.1 L391.1 76.1 L391.88 76.1 L392.65 76.1 L393.43 76.1 L394.2 76.1 L394.98 76.1 L395.76 76.1 L396.53 76.1 L397.31 76.1 L398.08 76.1 L398.86 76.1 L399.64 76.1 L400.41 76.1 L401.19 76.1 L401.97 76.1 L402.74 76.1 L403.52 76.1 L404.29 76.1 L405.07 76.1 L405.85 76.1 L406.62 76.1 L407.4 76.1 L407.4 76.1" fill="none" stroke="#333" stroke-width="1.0"/>
<text x="406.4" y="52" font-size="6.0" font-weight="normal" text-anchor="end" fill="#111" stroke="#111" stroke-width="0.22">Isotype</text>
<path d="M283.2 106.9 L283.2 106.9 L284.24 106.9 L285.27 106.9 L286.31 106.9 L287.34 106.9 L288.38 106.9 L289.41 106.9 L290.44 106.9 L291.48 106.9 L292.51 106.9 L293.55 106.9 L294.58 106.9 L295.62 106.9 L296.65 106.9 L297.69 106.9 L298.72 106.89 L299.76 106.87 L300.79 106.83 L301.83 106.74 L302.87 106.57 L303.9 106.25 L304.94 105.68 L305.97 104.76 L307 103.33 L308.04 101.29 L309.07 98.54 L310.11 95.14 L311.14 91.24 L312.18 87.2 L313.21 83.47 L314.25 80.55 L315.28 78.88 L316.32 78.71 L317.35 79.86 L318.39 82.12 L319.43 85.22 L320.46 88.78 L321.5 92.43 L322.53 95.87 L323.56 98.87 L324.6 101.31 L325.63 103.19 L326.67 104.54 L327.7 105.47 L328.74 106.07 L329.77 106.44 L330.81 106.66 L331.84 106.78 L332.88 106.84 L333.91 106.87 L334.95 106.89 L335.99 106.9 L337.02 106.9 L338.06 106.9 L339.09 106.9 L340.12 106.9 L341.16 106.9 L342.19 106.9 L343.23 106.9 L344.26 106.9 L345.3 106.9 L346.33 106.9 L347.37 106.9 L348.4 106.9 L349.44 106.9 L350.47 106.9 L351.51 106.9 L352.54 106.9 L353.58 106.9 L354.62 106.9 L355.65 106.9 L356.68 106.9 L357.72 106.9 L358.75 106.9 L359.79 106.9 L360.82 106.9 L361.86 106.9 L362.89 106.9 L363.93 106.9 L364.96 106.9 L366 106.9 L367.03 106.9 L368.07 106.9 L369.1 106.9 L370.14 106.9 L371.17 106.9 L372.21 106.9 L373.25 106.9 L374.28 106.9 L375.31 106.9 L376.35 106.9 L377.38 106.9 L378.42 106.9 L379.45 106.9 L380.49 106.9 L381.52 106.9 L382.56 106.9 L383.59 106.9 L384.63 106.9 L385.66 106.9 L386.7 106.9 L387.74 106.9 L388.77 106.9 L389.8 106.9 L390.84 106.9 L391.88 106.9 L392.91 106.9 L393.94 106.9 L394.98 106.9 L396.01 106.9 L397.05 106.9 L398.08 106.9 L399.12 106.9 L400.15 106.9 L401.19 106.9 L402.22 106.9 L403.26 106.9 L404.29 106.9 L405.33 106.9 L406.37 106.9 L407.4 106.9 L407.4 106.9 Z" fill="#9d9fd0" stroke="none"/>
<path d="M283.2 106.9 L283.2 106.9 L284.24 106.9 L285.27 106.9 L286.31 106.9 L287.34 106.9 L288.38 106.9 L289.41 106.9 L290.44 106.9 L291.48 106.9 L292.51 106.9 L293.55 106.9 L294.58 106.9 L295.62 106.9 L296.65 106.9 L297.69 106.9 L298.72 106.89 L299.76 106.87 L300.79 106.83 L301.83 106.74 L302.87 106.57 L303.9 106.25 L304.94 105.68 L305.97 104.76 L307 103.33 L308.04 101.29 L309.07 98.54 L310.11 95.14 L311.14 91.24 L312.18 87.2 L313.21 83.47 L314.25 80.55 L315.28 78.88 L316.32 78.71 L317.35 79.86 L318.39 82.12 L319.43 85.22 L320.46 88.78 L321.5 92.43 L322.53 95.87 L323.56 98.87 L324.6 101.31 L325.63 103.19 L326.67 104.54 L327.7 105.47 L328.74 106.07 L329.77 106.44 L330.81 106.66 L331.84 106.78 L332.88 106.84 L333.91 106.87 L334.95 106.89 L335.99 106.9 L337.02 106.9 L338.06 106.9 L339.09 106.9 L340.12 106.9 L341.16 106.9 L342.19 106.9 L343.23 106.9 L344.26 106.9 L345.3 106.9 L346.33 106.9 L347.37 106.9 L348.4 106.9 L349.44 106.9 L350.47 106.9 L351.51 106.9 L352.54 106.9 L353.58 106.9 L354.62 106.9 L355.65 106.9 L356.68 106.9 L357.72 106.9 L358.75 106.9 L359.79 106.9 L360.82 106.9 L361.86 106.9 L362.89 106.9 L363.93 106.9 L364.96 106.9 L366 106.9 L367.03 106.9 L368.07 106.9 L369.1 106.9 L370.14 106.9 L371.17 106.9 L372.21 106.9 L373.25 106.9 L374.28 106.9 L375.31 106.9 L376.35 106.9 L377.38 106.9 L378.42 106.9 L379.45 106.9 L380.49 106.9 L381.52 106.9 L382.56 106.9 L383.59 106.9 L384.63 106.9 L385.66 106.9 L386.7 106.9 L387.74 106.9 L388.77 106.9 L389.8 106.9 L390.84 106.9 L391.88 106.9 L392.91 106.9 L393.94 106.9 L394.98 106.9 L396.01 106.9 L397.05 106.9 L398.08 106.9 L399.12 106.9 L400.15 106.9 L401.19 106.9 L402.22 106.9 L403.26 106.9 L404.29 106.9 L405.33 106.9 L406.37 106.9 L407.4 106.9 L407.4 106.9" fill="none" stroke="#2e3fae" stroke-width="1.1"/>
<text x="406.4" y="82.3" font-size="6.0" font-weight="normal" text-anchor="end" fill="#111" stroke="#111" stroke-width="0.22">SB28 + T cells</text>
<text x="406.4" y="89.5" font-size="6.0" font-weight="normal" text-anchor="end" fill="#111" stroke="#111" stroke-width="0.22">(ZIKV+diluent)</text>
<path d="M283.2 138 L283.2 138 L284.24 138 L285.27 138 L286.31 138 L287.34 138 L288.38 138 L289.41 138 L290.44 138 L291.48 138 L292.51 138 L293.55 138 L294.58 138 L295.62 138 L296.65 138 L297.69 138 L298.72 137.99 L299.76 137.97 L300.79 137.94 L301.83 137.88 L302.87 137.76 L303.9 137.53 L304.94 137.15 L305.97 136.52 L307 135.55 L308.04 134.13 L309.07 132.17 L310.11 129.62 L311.14 126.52 L312.18 122.99 L313.21 119.29 L314.25 115.76 L315.28 112.79 L316.32 110.75 L317.35 109.91 L318.39 110.3 L319.43 111.73 L320.46 114.03 L321.5 116.96 L322.53 120.24 L323.56 123.58 L324.6 126.74 L325.63 129.54 L326.67 131.89 L327.7 133.75 L328.74 135.16 L329.77 136.17 L330.81 136.87 L331.84 137.33 L332.88 137.62 L333.91 137.79 L334.95 137.89 L335.99 137.94 L337.02 137.97 L338.06 137.99 L339.09 137.99 L340.12 138 L341.16 138 L342.19 138 L343.23 138 L344.26 138 L345.3 138 L346.33 138 L347.37 138 L348.4 138 L349.44 138 L350.47 138 L351.51 138 L352.54 138 L353.58 138 L354.62 138 L355.65 138 L356.68 138 L357.72 138 L358.75 138 L359.79 138 L360.82 138 L361.86 138 L362.89 138 L363.93 138 L364.96 138 L366 138 L367.03 138 L368.07 138 L369.1 138 L370.14 138 L371.17 138 L372.21 138 L373.25 138 L374.28 138 L375.31 138 L376.35 138 L377.38 138 L378.42 138 L379.45 138 L380.49 138 L381.52 138 L382.56 138 L383.59 138 L384.63 138 L385.66 138 L386.7 138 L387.74 138 L388.77 138 L389.8 138 L390.84 138 L391.88 138 L392.91 138 L393.94 138 L394.98 138 L396.01 138 L397.05 138 L398.08 138 L399.12 138 L400.15 138 L401.19 138 L402.22 138 L403.26 138 L404.29 138 L405.33 138 L406.37 138 L407.4 138 L407.4 138 Z" fill="#f1a08c" stroke="none"/>
<path d="M283.2 138 L283.2 138 L284.24 138 L285.27 138 L286.31 138 L287.34 138 L288.38 138 L289.41 138 L290.44 138 L291.48 138 L292.51 138 L293.55 138 L294.58 138 L295.62 138 L296.65 138 L297.69 138 L298.72 137.99 L299.76 137.97 L300.79 137.94 L301.83 137.88 L302.87 137.76 L303.9 137.53 L304.94 137.15 L305.97 136.52 L307 135.55 L308.04 134.13 L309.07 132.17 L310.11 129.62 L311.14 126.52 L312.18 122.99 L313.21 119.29 L314.25 115.76 L315.28 112.79 L316.32 110.75 L317.35 109.91 L318.39 110.3 L319.43 111.73 L320.46 114.03 L321.5 116.96 L322.53 120.24 L323.56 123.58 L324.6 126.74 L325.63 129.54 L326.67 131.89 L327.7 133.75 L328.74 135.16 L329.77 136.17 L330.81 136.87 L331.84 137.33 L332.88 137.62 L333.91 137.79 L334.95 137.89 L335.99 137.94 L337.02 137.97 L338.06 137.99 L339.09 137.99 L340.12 138 L341.16 138 L342.19 138 L343.23 138 L344.26 138 L345.3 138 L346.33 138 L347.37 138 L348.4 138 L349.44 138 L350.47 138 L351.51 138 L352.54 138 L353.58 138 L354.62 138 L355.65 138 L356.68 138 L357.72 138 L358.75 138 L359.79 138 L360.82 138 L361.86 138 L362.89 138 L363.93 138 L364.96 138 L366 138 L367.03 138 L368.07 138 L369.1 138 L370.14 138 L371.17 138 L372.21 138 L373.25 138 L374.28 138 L375.31 138 L376.35 138 L377.38 138 L378.42 138 L379.45 138 L380.49 138 L381.52 138 L382.56 138 L383.59 138 L384.63 138 L385.66 138 L386.7 138 L387.74 138 L388.77 138 L389.8 138 L390.84 138 L391.88 138 L392.91 138 L393.94 138 L394.98 138 L396.01 138 L397.05 138 L398.08 138 L399.12 138 L400.15 138 L401.19 138 L402.22 138 L403.26 138 L404.29 138 L405.33 138 L406.37 138 L407.4 138 L407.4 138" fill="none" stroke="#e03a36" stroke-width="1.1"/>
<text x="406.4" y="113.3" font-size="6.0" font-weight="normal" text-anchor="end" fill="#111" stroke="#111" stroke-width="0.22">SB28 + T cells</text>
<text x="406.4" y="120.3" font-size="6.0" font-weight="normal" text-anchor="end" fill="#111" stroke="#111" stroke-width="0.22">(ZIKV+IL-7)</text>
<path d="M283.2 138 L283.2 14.7 L407.4 14.7 L407.4 138" fill="none" stroke="#6a6a6a" stroke-width="1.0"/>
<text x="348.1" y="159.5" font-size="7.6" font-weight="normal" text-anchor="middle" fill="#000">MHC-II</text>
<line x1="340.3" y1="138.4" x2="340.3" y2="141.8" stroke="#000" stroke-width="1.0"/>
<line x1="369.2" y1="138.4" x2="369.2" y2="141.8" stroke="#000" stroke-width="1.0"/>
<line x1="396.1" y1="138.4" x2="396.1" y2="141.8" stroke="#000" stroke-width="1.0"/>
<line x1="288.5" y1="138.4" x2="288.5" y2="140.6" stroke="#111" stroke-width="0.8"/>
<line x1="291.4" y1="138.4" x2="291.4" y2="140.6" stroke="#111" stroke-width="0.8"/>
<line x1="294.2" y1="138.4" x2="294.2" y2="140.6" stroke="#111" stroke-width="0.8"/>
<line x1="297.1" y1="138.4" x2="297.1" y2="140.6" stroke="#111" stroke-width="0.8"/>
<line x1="299.9" y1="138.4" x2="299.9" y2="140.6" stroke="#111" stroke-width="0.8"/>
<line x1="302.8" y1="138.4" x2="302.8" y2="140.6" stroke="#111" stroke-width="0.8"/>
<line x1="315.1" y1="138.4" x2="315.1" y2="140.6" stroke="#111" stroke-width="0.8"/>
<line x1="318" y1="138.4" x2="318" y2="140.6" stroke="#111" stroke-width="0.8"/>
<line x1="320.8" y1="138.4" x2="320.8" y2="140.6" stroke="#111" stroke-width="0.8"/>
<line x1="325.5" y1="138.4" x2="325.5" y2="140.6" stroke="#111" stroke-width="0.8"/>
<line x1="329" y1="138.4" x2="329" y2="140.6" stroke="#111" stroke-width="0.8"/>
<line x1="331.6" y1="138.4" x2="331.6" y2="140.6" stroke="#111" stroke-width="0.8"/>
<line x1="334.1" y1="138.4" x2="334.1" y2="140.6" stroke="#111" stroke-width="0.8"/>
<line x1="336.5" y1="138.4" x2="336.5" y2="140.6" stroke="#111" stroke-width="0.8"/>
<line x1="349.3" y1="138.4" x2="349.3" y2="140.6" stroke="#111" stroke-width="0.8"/>
<line x1="355" y1="138.4" x2="355" y2="140.6" stroke="#111" stroke-width="0.8"/>
<line x1="358.7" y1="138.4" x2="358.7" y2="140.6" stroke="#111" stroke-width="0.8"/>
<line x1="361.6" y1="138.4" x2="361.6" y2="140.6" stroke="#111" stroke-width="0.8"/>
<line x1="364.1" y1="138.4" x2="364.1" y2="140.6" stroke="#111" stroke-width="0.8"/>
<line x1="366.3" y1="138.4" x2="366.3" y2="140.6" stroke="#111" stroke-width="0.8"/>
<line x1="378.7" y1="138.4" x2="378.7" y2="140.6" stroke="#111" stroke-width="0.8"/>
<line x1="383.4" y1="138.4" x2="383.4" y2="140.6" stroke="#111" stroke-width="0.8"/>
<line x1="387.2" y1="138.4" x2="387.2" y2="140.6" stroke="#111" stroke-width="0.8"/>
<line x1="390.1" y1="138.4" x2="390.1" y2="140.6" stroke="#111" stroke-width="0.8"/>
<line x1="392.3" y1="138.4" x2="392.3" y2="140.6" stroke="#111" stroke-width="0.8"/>
<line x1="394.2" y1="138.4" x2="394.2" y2="140.6" stroke="#111" stroke-width="0.8"/>
<line x1="403.3" y1="138.4" x2="403.3" y2="140.6" stroke="#111" stroke-width="0.8"/>
<line x1="406.8" y1="138.4" x2="406.8" y2="140.6" stroke="#111" stroke-width="0.8"/>
<line x1="304.7" y1="138.4" x2="304.7" y2="140.8" stroke="#000" stroke-width="0.8"/>
<line x1="305.5" y1="138.4" x2="305.5" y2="140.8" stroke="#000" stroke-width="0.8"/>
<line x1="306.3" y1="138.4" x2="306.3" y2="140.8" stroke="#000" stroke-width="0.8"/>
<line x1="307.1" y1="138.4" x2="307.1" y2="140.8" stroke="#000" stroke-width="0.8"/>
<line x1="307.9" y1="138.4" x2="307.9" y2="140.8" stroke="#000" stroke-width="0.8"/>
<line x1="308.7" y1="138.4" x2="308.7" y2="140.8" stroke="#000" stroke-width="0.8"/>
<line x1="309.5" y1="138.4" x2="309.5" y2="140.8" stroke="#000" stroke-width="0.8"/>
<line x1="310.3" y1="138.4" x2="310.3" y2="140.8" stroke="#000" stroke-width="0.8"/>
<line x1="311.1" y1="138.4" x2="311.1" y2="140.8" stroke="#000" stroke-width="0.8"/>
<line x1="311.9" y1="138.4" x2="311.9" y2="140.8" stroke="#000" stroke-width="0.8"/>
<line x1="312.7" y1="138.4" x2="312.7" y2="140.8" stroke="#000" stroke-width="0.8"/>
<line x1="313.5" y1="138.4" x2="313.5" y2="140.8" stroke="#000" stroke-width="0.8"/>
<text x="311.9" y="149" font-size="4.7" font-weight="normal" text-anchor="middle" fill="#111">0</text>
<text x="341.1" y="149" font-size="4.7" font-weight="normal" text-anchor="middle" fill="#111">10</text>
<text x="345.7" y="146.9" font-size="3.7" font-weight="normal" text-anchor="middle" fill="#111">3</text>
<text x="370.7" y="149" font-size="4.7" font-weight="normal" text-anchor="middle" fill="#111">10</text>
<text x="375" y="146.9" font-size="3.7" font-weight="normal" text-anchor="middle" fill="#111">4</text>
<text x="397.3" y="149" font-size="4.7" font-weight="normal" text-anchor="middle" fill="#111">10</text>
<text x="401.8" y="146.9" font-size="3.7" font-weight="normal" text-anchor="middle" fill="#111">5</text>
<text x="432.6" y="10.3" font-size="11.8" font-weight="bold" text-anchor="start" fill="#000">C</text>
<text x="505.8" y="8.3" font-size="11.2" font-weight="bold" text-anchor="middle" fill="#000">SB28 MHC I</text>
<line x1="471.2" y1="26.4" x2="471.2" y2="134.4" stroke="#000" stroke-width="1.3"/>
<line x1="466.8" y1="134.4" x2="471.85" y2="134.4" stroke="#000" stroke-width="1.3"/>
<text x="464.4" y="137.84" font-size="8.2" font-weight="bold" text-anchor="end" fill="#000">0</text>
<line x1="466.8" y1="98.4" x2="471.85" y2="98.4" stroke="#000" stroke-width="1.3"/>
<text x="464.4" y="101.84" font-size="8.2" font-weight="bold" text-anchor="end" fill="#000">5</text>
<line x1="466.8" y1="62.4" x2="471.85" y2="62.4" stroke="#000" stroke-width="1.3"/>
<text x="464.4" y="65.84" font-size="8.2" font-weight="bold" text-anchor="end" fill="#000">10</text>
<line x1="466.8" y1="26.4" x2="471.85" y2="26.4" stroke="#000" stroke-width="1.3"/>
<text x="464.4" y="29.84" font-size="8.2" font-weight="bold" text-anchor="end" fill="#000">15</text>
<text x="464.6" y="129.5" font-size="8.2" font-weight="bold" text-anchor="end" fill="#000">1</text>
<text x="443.7" y="80.3" font-size="9.0" font-weight="bold" text-anchor="middle" fill="#000" transform="rotate(-90 443.7 80.3)">Fold change in MFI</text>
<text x="451.8" y="80.3" font-size="8.9" font-weight="bold" text-anchor="middle" fill="#000" transform="rotate(-90 451.8 80.3)">(normalized to SB28 alone)</text>
<line x1="472.6" y1="127.2" x2="544" y2="127.2" stroke="#000" stroke-width="1.3" stroke-dasharray="1.3 1.7"/>
<rect x="476.45" y="126.48" width="7.3" height="7.92" fill="#555" stroke="#000" stroke-width="1.5"/>
<rect x="489.85" y="98.4" width="7.3" height="36" fill="#8c95c9" stroke="#2142ff" stroke-width="1.5"/>
<rect x="503.85" y="124.68" width="7.1" height="9.72" fill="#fff" stroke="#2142ff" stroke-width="1.7"/>
<rect x="517.15" y="56.64" width="7.1" height="77.76" fill="#f6a08a" stroke="#ff3311" stroke-width="1.7"/>
<rect x="530.95" y="124.68" width="7.1" height="9.72" fill="#fff" stroke="#ff3311" stroke-width="1.7"/>
<line x1="493.5" y1="98.4" x2="493.5" y2="81.12" stroke="#2142ff" stroke-width="1.0"/>
<line x1="491.1" y1="81.12" x2="495.9" y2="81.12" stroke="#2142ff" stroke-width="1.0"/>
<line x1="520.7" y1="56.64" x2="520.7" y2="50.16" stroke="#ff3311" stroke-width="1.0"/>
<line x1="518.9" y1="50.16" x2="522.5" y2="50.16" stroke="#ff3311" stroke-width="1.0"/>
<circle cx="478.1" cy="123.6" r="2" fill="#000"/>
<circle cx="481.6" cy="126.48" r="2" fill="#000"/>
<circle cx="480.1" cy="128.64" r="2" fill="#000"/>
<circle cx="478.6" cy="127.92" r="2" fill="#000"/>
<circle cx="493.5" cy="81.12" r="2" fill="#2142ff"/>
<circle cx="495.8" cy="104.88" r="2" fill="#2142ff"/>
<circle cx="491.3" cy="108.48" r="2" fill="#2142ff"/>
<circle cx="495" cy="101.28" r="2" fill="#2142ff"/>
<circle cx="505.4" cy="125.4" r="2" fill="#2142ff"/>
<circle cx="507.4" cy="123.96" r="2" fill="#2142ff"/>
<circle cx="509.4" cy="125.04" r="2" fill="#2142ff"/>
<circle cx="520.7" cy="50.16" r="2" fill="#ff3311"/>
<circle cx="520.2" cy="56.64" r="2" fill="#ff3311"/>
<circle cx="521.7" cy="60.96" r="2" fill="#ff3311"/>
<circle cx="532.5" cy="125.76" r="2" fill="#ff3311"/>
<circle cx="534.5" cy="123.96" r="2" fill="#ff3311"/>
<circle cx="536.5" cy="124.32" r="2" fill="#ff3311"/>
<line x1="470.55" y1="134.4" x2="543.5" y2="134.4" stroke="#000" stroke-width="1.3"/>
<line x1="480.1" y1="134.4" x2="480.1" y2="138.4" stroke="#000" stroke-width="1.3"/>
<line x1="493.5" y1="134.4" x2="493.5" y2="138.4" stroke="#000" stroke-width="1.3"/>
<line x1="507.4" y1="134.4" x2="507.4" y2="138.4" stroke="#000" stroke-width="1.3"/>
<line x1="520.7" y1="134.4" x2="520.7" y2="138.4" stroke="#000" stroke-width="1.3"/>
<line x1="534.5" y1="134.4" x2="534.5" y2="138.4" stroke="#000" stroke-width="1.3"/>
<path d="M480.2 36 L480.2 25.5 L520.9 25.5 L520.9 28.9" fill="none" stroke="#000" stroke-width="1.1"/>
<path d="M495.9 20.35 L496.35 21.21 L497.33 21.18 L496.81 22 L497.33 22.82 L496.35 22.79 L495.9 23.65 L495.45 22.79 L494.47 22.82 L494.99 22 L494.47 21.18 L495.45 21.21 Z" fill="#000"/>
<path d="M499 20.35 L499.45 21.21 L500.43 21.18 L499.91 22 L500.43 22.82 L499.45 22.79 L499 23.65 L498.55 22.79 L497.57 22.82 L498.09 22 L497.57 21.18 L498.55 21.21 Z" fill="#000"/>
<path d="M502.1 20.35 L502.55 21.21 L503.53 21.18 L503.01 22 L503.53 22.82 L502.55 22.79 L502.1 23.65 L501.65 22.79 L500.67 22.82 L501.19 22 L500.67 21.18 L501.65 21.21 Z" fill="#000"/>
<path d="M505.2 20.35 L505.65 21.21 L506.63 21.18 L506.11 22 L506.63 22.82 L505.65 22.79 L505.2 23.65 L504.75 22.79 L503.77 22.82 L504.29 22 L503.77 21.18 L504.75 21.21 Z" fill="#000"/>
<path d="M493.6 35.5 L493.6 32 L520.9 32 L520.9 35.5" fill="none" stroke="#000" stroke-width="1.1"/>
<path d="M504.15 27.05 L504.6 27.91 L505.58 27.88 L505.06 28.7 L505.58 29.52 L504.6 29.49 L504.15 30.35 L503.7 29.49 L502.72 29.52 L503.24 28.7 L502.72 27.88 L503.7 27.91 Z" fill="#000"/>
<path d="M507.25 27.05 L507.7 27.91 L508.68 27.88 L508.16 28.7 L508.68 29.52 L507.7 29.49 L507.25 30.35 L506.8 29.49 L505.82 29.52 L506.34 28.7 L505.82 27.88 L506.8 27.91 Z" fill="#000"/>
<path d="M510.35 27.05 L510.8 27.91 L511.78 27.88 L511.26 28.7 L511.78 29.52 L510.8 29.49 L510.35 30.35 L509.9 29.49 L508.92 29.52 L509.44 28.7 L508.92 27.88 L509.9 27.91 Z" fill="#000"/>
<path d="M480.3 118 L480.3 42.7 L491.2 42.7 L491.2 75.2" fill="none" stroke="#000" stroke-width="1.1"/>
<path d="M484.2 37.45 L484.65 38.31 L485.63 38.27 L485.11 39.1 L485.63 39.93 L484.65 39.89 L484.2 40.75 L483.75 39.89 L482.77 39.93 L483.29 39.1 L482.77 38.27 L483.75 38.31 Z" fill="#000"/>
<path d="M487.3 37.45 L487.75 38.31 L488.73 38.27 L488.21 39.1 L488.73 39.93 L487.75 39.89 L487.3 40.75 L486.85 39.89 L485.87 39.93 L486.39 39.1 L485.87 38.27 L486.85 38.31 Z" fill="#000"/>
<path d="M495.8 75.2 L495.8 42.7 L507.4 42.7 L507.4 118" fill="none" stroke="#000" stroke-width="1.1"/>
<path d="M500.05 37.45 L500.5 38.31 L501.48 38.27 L500.96 39.1 L501.48 39.93 L500.5 39.89 L500.05 40.75 L499.6 39.89 L498.62 39.93 L499.14 39.1 L498.62 38.27 L499.6 38.31 Z" fill="#000"/>
<path d="M503.15 37.45 L503.6 38.31 L504.58 38.27 L504.06 39.1 L504.58 39.93 L503.6 39.89 L503.15 40.75 L502.7 39.89 L501.72 39.93 L502.24 39.1 L501.72 38.27 L502.7 38.31 Z" fill="#000"/>
<path d="M520.7 45.8 L520.7 42.7 L534.4 42.7 L534.4 119.7" fill="none" stroke="#000" stroke-width="1.1"/>
<path d="M522.9 37.45 L523.35 38.31 L524.33 38.27 L523.81 39.1 L524.33 39.93 L523.35 39.89 L522.9 40.75 L522.45 39.89 L521.47 39.93 L521.99 39.1 L521.47 38.27 L522.45 38.31 Z" fill="#000"/>
<path d="M526 37.45 L526.45 38.31 L527.43 38.27 L526.91 39.1 L527.43 39.93 L526.45 39.89 L526 40.75 L525.55 39.89 L524.57 39.93 L525.09 39.1 L524.57 38.27 L525.55 38.31 Z" fill="#000"/>
<path d="M529.1 37.45 L529.55 38.31 L530.53 38.27 L530.01 39.1 L530.53 39.93 L529.55 39.89 L529.1 40.75 L528.65 39.89 L527.67 39.93 L528.19 39.1 L527.67 38.27 L528.65 38.31 Z" fill="#000"/>
<path d="M532.2 37.45 L532.65 38.31 L533.63 38.27 L533.11 39.1 L533.63 39.93 L532.65 39.89 L532.2 40.75 L531.75 39.89 L530.77 39.93 L531.29 39.1 L530.77 38.27 L531.75 38.31 Z" fill="#000"/>
<text x="481.7" y="146.4" font-size="8.0" font-weight="bold" text-anchor="end" fill="#000" transform="rotate(-45 481.7 146.4)">Untreated</text>
<text x="495.1" y="146.4" font-size="8.0" font-weight="bold" text-anchor="end" fill="#000" transform="rotate(-45 495.1 146.4)">ZIKV+dil</text>
<text x="509" y="146.4" font-size="8.0" font-weight="bold" text-anchor="end" fill="#000" transform="rotate(-45 509 146.4)">ZIKV+dil+α-IFNγ</text>
<text x="522.3" y="146.4" font-size="8.0" font-weight="bold" text-anchor="end" fill="#000" transform="rotate(-45 522.3 146.4)">ZIKV+IL7</text>
<text x="536.1" y="146.4" font-size="8.0" font-weight="bold" text-anchor="end" fill="#000" transform="rotate(-45 536.1 146.4)">ZIKV+IL7+α-IFNγ</text>
<text x="564.5" y="10.3" font-size="11.8" font-weight="bold" text-anchor="start" fill="#000">D</text>
<text x="640" y="8.3" font-size="11.2" font-weight="bold" text-anchor="middle" fill="#000">CT2A MHC I</text>
<line x1="603.8" y1="25.2" x2="603.8" y2="134.2" stroke="#000" stroke-width="1.3"/>
<line x1="599.4" y1="134.2" x2="604.45" y2="134.2" stroke="#000" stroke-width="1.3"/>
<text x="597" y="137.64" font-size="8.2" font-weight="bold" text-anchor="end" fill="#000">0</text>
<line x1="599.4" y1="112.4" x2="604.45" y2="112.4" stroke="#000" stroke-width="1.3"/>
<text x="597" y="115.84" font-size="8.2" font-weight="bold" text-anchor="end" fill="#000">10</text>
<line x1="599.4" y1="90.6" x2="604.45" y2="90.6" stroke="#000" stroke-width="1.3"/>
<text x="597" y="94.04" font-size="8.2" font-weight="bold" text-anchor="end" fill="#000">20</text>
<line x1="599.4" y1="68.8" x2="604.45" y2="68.8" stroke="#000" stroke-width="1.3"/>
<text x="597" y="72.24" font-size="8.2" font-weight="bold" text-anchor="end" fill="#000">30</text>
<line x1="599.4" y1="47" x2="604.45" y2="47" stroke="#000" stroke-width="1.3"/>
<text x="597" y="50.44" font-size="8.2" font-weight="bold" text-anchor="end" fill="#000">40</text>
<line x1="599.4" y1="25.2" x2="604.45" y2="25.2" stroke="#000" stroke-width="1.3"/>
<text x="597" y="28.64" font-size="8.2" font-weight="bold" text-anchor="end" fill="#000">50</text>
<text x="597.2" y="129.9" font-size="8.2" font-weight="bold" text-anchor="end" fill="#000">1</text>
<text x="576.6" y="79.8" font-size="8.8" font-weight="bold" text-anchor="middle" fill="#000" transform="rotate(-90 576.6 79.8)">Fold change in MFI</text>
<text x="584.7" y="77.6" font-size="8.75" font-weight="bold" text-anchor="middle" fill="#000" transform="rotate(-90 584.7 77.6)">(normalized to CT2A alone)</text>
<line x1="605" y1="132.02" x2="676" y2="132.02" stroke="#000" stroke-width="1.3" stroke-dasharray="1.3 1.7"/>
<rect x="609.15" y="132.02" width="7.3" height="2.18" fill="#555" stroke="#000" stroke-width="1.5"/>
<rect x="622.85" y="87.11" width="7.3" height="47.09" fill="#8c95c9" stroke="#2142ff" stroke-width="1.5"/>
<rect x="636.35" y="132.46" width="7.3" height="1.74" fill="#fff" stroke="#2142ff" stroke-width="1.5"/>
<rect x="649.95" y="47.44" width="7.1" height="86.76" fill="#f6a08a" stroke="#ff3311" stroke-width="1.7"/>
<rect x="663.35" y="131.37" width="7.3" height="2.83" fill="#fff" stroke="#ff3311" stroke-width="1.5"/>
<line x1="626.5" y1="87.11" x2="626.5" y2="82.97" stroke="#2142ff" stroke-width="1.0"/>
<line x1="624.7" y1="82.97" x2="628.3" y2="82.97" stroke="#2142ff" stroke-width="1.0"/>
<line x1="653.5" y1="47.44" x2="653.5" y2="37.84" stroke="#ff3311" stroke-width="1.0"/>
<line x1="651.7" y1="37.84" x2="655.3" y2="37.84" stroke="#ff3311" stroke-width="1.0"/>
<circle cx="610.6" cy="132.02" r="2" fill="#000"/>
<circle cx="612.8" cy="131.37" r="2" fill="#000"/>
<circle cx="615" cy="132.02" r="2" fill="#000"/>
<circle cx="626.5" cy="82.97" r="2" fill="#2142ff"/>
<circle cx="628.5" cy="88.42" r="2" fill="#2142ff"/>
<circle cx="625" cy="90.6" r="2" fill="#2142ff"/>
<circle cx="637.8" cy="132.24" r="2" fill="#2142ff"/>
<circle cx="640" cy="132.02" r="2" fill="#2142ff"/>
<circle cx="642.2" cy="132.24" r="2" fill="#2142ff"/>
<circle cx="650.8" cy="39.15" r="2.1" fill="#ff3311"/>
<circle cx="656.1" cy="43.08" r="2.1" fill="#ff3311"/>
<circle cx="653.3" cy="59.43" r="2.1" fill="#ff3311"/>
<circle cx="664.8" cy="131.15" r="2" fill="#ff3311"/>
<circle cx="667" cy="130.93" r="2" fill="#ff3311"/>
<circle cx="669.2" cy="131.15" r="2" fill="#ff3311"/>
<line x1="603.15" y1="134.2" x2="675.5" y2="134.2" stroke="#000" stroke-width="1.3"/>
<line x1="612.8" y1="134.2" x2="612.8" y2="138.2" stroke="#000" stroke-width="1.3"/>
<line x1="626.5" y1="134.2" x2="626.5" y2="138.2" stroke="#000" stroke-width="1.3"/>
<line x1="640" y1="134.2" x2="640" y2="138.2" stroke="#000" stroke-width="1.3"/>
<line x1="653.5" y1="134.2" x2="653.5" y2="138.2" stroke="#000" stroke-width="1.3"/>
<line x1="667" y1="134.2" x2="667" y2="138.2" stroke="#000" stroke-width="1.3"/>
<path d="M612.4 29.7 L612.4 19.75 L653.5 19.75 L653.5 23.3" fill="none" stroke="#000" stroke-width="1.1"/>
<path d="M628.3 14.55 L628.75 15.41 L629.73 15.38 L629.21 16.2 L629.73 17.02 L628.75 16.99 L628.3 17.85 L627.85 16.99 L626.87 17.02 L627.39 16.2 L626.87 15.38 L627.85 15.41 Z" fill="#000"/>
<path d="M631.4 14.55 L631.85 15.41 L632.83 15.38 L632.31 16.2 L632.83 17.02 L631.85 16.99 L631.4 17.85 L630.95 16.99 L629.97 17.02 L630.49 16.2 L629.97 15.38 L630.95 15.41 Z" fill="#000"/>
<path d="M634.5 14.55 L634.95 15.41 L635.93 15.38 L635.41 16.2 L635.93 17.02 L634.95 16.99 L634.5 17.85 L634.05 16.99 L633.07 17.02 L633.59 16.2 L633.07 15.38 L634.05 15.41 Z" fill="#000"/>
<path d="M637.6 14.55 L638.05 15.41 L639.03 15.38 L638.51 16.2 L639.03 17.02 L638.05 16.99 L637.6 17.85 L637.15 16.99 L636.17 17.02 L636.69 16.2 L636.17 15.38 L637.15 15.41 Z" fill="#000"/>
<path d="M626.5 31.5 L626.5 27.9 L651.5 27.9 L651.5 31.5" fill="none" stroke="#000" stroke-width="1.1"/>
<path d="M634.35 22.75 L634.8 23.61 L635.78 23.57 L635.26 24.4 L635.78 25.22 L634.8 25.19 L634.35 26.05 L633.9 25.19 L632.92 25.22 L633.44 24.4 L632.92 23.57 L633.9 23.61 Z" fill="#000"/>
<path d="M637.45 22.75 L637.9 23.61 L638.88 23.57 L638.36 24.4 L638.88 25.22 L637.9 25.19 L637.45 26.05 L637 25.19 L636.02 25.22 L636.54 24.4 L636.02 23.57 L637 23.61 Z" fill="#000"/>
<path d="M640.55 22.75 L641 23.61 L641.98 23.57 L641.46 24.4 L641.98 25.22 L641 25.19 L640.55 26.05 L640.1 25.19 L639.12 25.22 L639.64 24.4 L639.12 23.57 L640.1 23.61 Z" fill="#000"/>
<path d="M643.65 22.75 L644.1 23.61 L645.08 23.57 L644.56 24.4 L645.08 25.22 L644.1 25.19 L643.65 26.05 L643.2 25.19 L642.22 25.22 L642.74 24.4 L642.22 23.57 L643.2 23.61 Z" fill="#000"/>
<path d="M655.6 31.5 L655.6 27.9 L667.1 27.9 L667.1 124.6" fill="none" stroke="#000" stroke-width="1.1"/>
<path d="M656.7 22.75 L657.15 23.61 L658.13 23.57 L657.61 24.4 L658.13 25.22 L657.15 25.19 L656.7 26.05 L656.25 25.19 L655.27 25.22 L655.79 24.4 L655.27 23.57 L656.25 23.61 Z" fill="#000"/>
<path d="M659.8 22.75 L660.25 23.61 L661.23 23.57 L660.71 24.4 L661.23 25.22 L660.25 25.19 L659.8 26.05 L659.35 25.19 L658.37 25.22 L658.89 24.4 L658.37 23.57 L659.35 23.61 Z" fill="#000"/>
<path d="M662.9 22.75 L663.35 23.61 L664.33 23.57 L663.81 24.4 L664.33 25.22 L663.35 25.19 L662.9 26.05 L662.45 25.19 L661.47 25.22 L661.99 24.4 L661.47 23.57 L662.45 23.61 Z" fill="#000"/>
<path d="M666 22.75 L666.45 23.61 L667.43 23.57 L666.91 24.4 L667.43 25.22 L666.45 25.19 L666 26.05 L665.55 25.19 L664.57 25.22 L665.09 24.4 L664.57 23.57 L665.55 23.61 Z" fill="#000"/>
<path d="M612.4 125.1 L612.4 38.3 L624.4 38.3 L624.4 77.6" fill="none" stroke="#000" stroke-width="1.1"/>
<path d="M613.75 33.45 L614.2 34.31 L615.18 34.27 L614.66 35.1 L615.18 35.93 L614.2 35.89 L613.75 36.75 L613.3 35.89 L612.32 35.93 L612.84 35.1 L612.32 34.27 L613.3 34.31 Z" fill="#000"/>
<path d="M616.85 33.45 L617.3 34.31 L618.28 34.27 L617.76 35.1 L618.28 35.93 L617.3 35.89 L616.85 36.75 L616.4 35.89 L615.42 35.93 L615.94 35.1 L615.42 34.27 L616.4 34.31 Z" fill="#000"/>
<path d="M619.95 33.45 L620.4 34.31 L621.38 34.27 L620.86 35.1 L621.38 35.93 L620.4 35.89 L619.95 36.75 L619.5 35.89 L618.52 35.93 L619.04 35.1 L618.52 34.27 L619.5 34.31 Z" fill="#000"/>
<path d="M623.05 33.45 L623.5 34.31 L624.48 34.27 L623.96 35.1 L624.48 35.93 L623.5 35.89 L623.05 36.75 L622.6 35.89 L621.62 35.93 L622.14 35.1 L621.62 34.27 L622.6 34.31 Z" fill="#000"/>
<path d="M628.7 77.6 L628.7 38.3 L640.3 38.3 L640.3 125.1" fill="none" stroke="#000" stroke-width="1.1"/>
<path d="M629.85 33.45 L630.3 34.31 L631.28 34.27 L630.76 35.1 L631.28 35.93 L630.3 35.89 L629.85 36.75 L629.4 35.89 L628.42 35.93 L628.94 35.1 L628.42 34.27 L629.4 34.31 Z" fill="#000"/>
<path d="M632.95 33.45 L633.4 34.31 L634.38 34.27 L633.86 35.1 L634.38 35.93 L633.4 35.89 L632.95 36.75 L632.5 35.89 L631.52 35.93 L632.04 35.1 L631.52 34.27 L632.5 34.31 Z" fill="#000"/>
<path d="M636.05 33.45 L636.5 34.31 L637.48 34.27 L636.96 35.1 L637.48 35.93 L636.5 35.89 L636.05 36.75 L635.6 35.89 L634.62 35.93 L635.14 35.1 L634.62 34.27 L635.6 34.31 Z" fill="#000"/>
<path d="M639.15 33.45 L639.6 34.31 L640.58 34.27 L640.06 35.1 L640.58 35.93 L639.6 35.89 L639.15 36.75 L638.7 35.89 L637.72 35.93 L638.24 35.1 L637.72 34.27 L638.7 34.31 Z" fill="#000"/>
<text x="614.4" y="146.2" font-size="8.0" font-weight="bold" text-anchor="end" fill="#000" transform="rotate(-45 614.4 146.2)">Untreated</text>
<text x="628.1" y="146.2" font-size="8.0" font-weight="bold" text-anchor="end" fill="#000" transform="rotate(-45 628.1 146.2)">ZIKV+dil</text>
<text x="641.6" y="146.2" font-size="8.0" font-weight="bold" text-anchor="end" fill="#000" transform="rotate(-45 641.6 146.2)">ZIKV+dil+α-IFNγ</text>
<text x="655.1" y="146.2" font-size="8.0" font-weight="bold" text-anchor="end" fill="#000" transform="rotate(-45 655.1 146.2)">ZIKV+IL7</text>
<text x="668.6" y="146.2" font-size="8.0" font-weight="bold" text-anchor="end" fill="#000" transform="rotate(-45 668.6 146.2)">ZIKV+IL7+α-IFNγ</text>
<text x="0.3" y="207.3" font-size="11.8" font-weight="bold" text-anchor="start" fill="#000">E</text>
<text x="79.6" y="209.8" font-size="11.2" font-weight="bold" text-anchor="start" fill="#000">SB28 Brain - CD8<tspan dy="-4.26" font-size="6.72">+</tspan><tspan dy="4.26"> PD-1</tspan><tspan dy="-4.26" font-size="6.72">+</tspan></text>
<text x="24.9" y="280.5" font-size="8.7" font-weight="bold" text-anchor="middle" fill="#000" transform="rotate(-90 24.9 280.5)">% of CD8<tspan dy="-3.04" font-size="5.22">+</tspan><tspan dy="3.04"> cells</tspan></text>
<rect x="53.05" y="273.74" width="11.1" height="59.26" fill="#707070" stroke="#000" stroke-width="1.7"/>
<line x1="58.6" y1="273.74" x2="58.6" y2="258.96" stroke="#000" stroke-width="1.0"/>
<line x1="55.6" y1="258.96" x2="61.6" y2="258.96" stroke="#000" stroke-width="1.0"/>
<circle cx="58.6" cy="253.81" r="2.2" fill="#000"/>
<circle cx="58.1" cy="258.96" r="2.2" fill="#000"/>
<circle cx="58.6" cy="265.47" r="2.2" fill="#000"/>
<circle cx="62.9" cy="271.3" r="2.2" fill="#000"/>
<circle cx="54.1" cy="273.06" r="2.2" fill="#000"/>
<circle cx="61.1" cy="274.15" r="2.2" fill="#000"/>
<circle cx="57.6" cy="288.66" r="2.2" fill="#000"/>
<circle cx="58.6" cy="299.1" r="2.2" fill="#000"/>
<rect x="72.35" y="314.69" width="11.1" height="18.31" fill="#f4a38e" stroke="#e8342b" stroke-width="1.7"/>
<line x1="77.9" y1="314.69" x2="77.9" y2="302.49" stroke="#f07b70" stroke-width="1.0"/>
<line x1="74.9" y1="302.49" x2="80.9" y2="302.49" stroke="#f07b70" stroke-width="1.0"/>
<circle cx="77.9" cy="287.3" r="2.2" fill="#e8342b"/>
<circle cx="76.7" cy="305.88" r="2.2" fill="#e8342b"/>
<circle cx="79.4" cy="305.47" r="2.2" fill="#e8342b"/>
<circle cx="74.9" cy="314.69" r="2.2" fill="#e8342b"/>
<circle cx="77.9" cy="318.08" r="2.2" fill="#e8342b"/>
<circle cx="80.9" cy="320.8" r="2.2" fill="#e8342b"/>
<circle cx="75.9" cy="323.51" r="2.2" fill="#e8342b"/>
<circle cx="77.9" cy="327.58" r="2.2" fill="#e8342b"/>
<rect x="92.25" y="275.37" width="11.1" height="57.63" fill="#fff" stroke="#000" stroke-width="1.7"/>
<line x1="97.8" y1="275.37" x2="97.8" y2="255.17" stroke="#444" stroke-width="1.0"/>
<line x1="94.8" y1="255.17" x2="100.8" y2="255.17" stroke="#444" stroke-width="1.0"/>
<circle cx="93.4" cy="245.81" r="2.2" fill="#000"/>
<circle cx="102.2" cy="242.69" r="2.2" fill="#000"/>
<circle cx="93.4" cy="271.3" r="2.2" fill="#000"/>
<circle cx="102.2" cy="271.3" r="2.2" fill="#000"/>
<circle cx="93.4" cy="281.2" r="2.2" fill="#000"/>
<circle cx="102.2" cy="281.2" r="2.2" fill="#000"/>
<circle cx="93.4" cy="287.3" r="2.2" fill="#000"/>
<circle cx="102.2" cy="291.64" r="2.2" fill="#000"/>
<circle cx="97.8" cy="299.1" r="2.2" fill="#000"/>
<rect x="112.05" y="326.22" width="11.1" height="6.78" fill="#fff" stroke="#e8342b" stroke-width="1.7"/>
<line x1="117.6" y1="326.22" x2="117.6" y2="318.08" stroke="#e8342b" stroke-width="1.0"/>
<line x1="114.6" y1="318.08" x2="120.6" y2="318.08" stroke="#e8342b" stroke-width="1.0"/>
<circle cx="117.6" cy="312.12" r="2.2" fill="#e8342b"/>
<circle cx="117.6" cy="315.24" r="2.2" fill="#e8342b"/>
<circle cx="117.6" cy="320.52" r="2.2" fill="#e8342b"/>
<circle cx="114.1" cy="327.3" r="2.2" fill="#e8342b"/>
<circle cx="121.1" cy="327.3" r="2.2" fill="#e8342b"/>
<circle cx="117.6" cy="328.66" r="2.2" fill="#e8342b"/>
<circle cx="113.6" cy="330.56" r="2.2" fill="#e8342b"/>
<circle cx="116.1" cy="330.97" r="2.2" fill="#e8342b"/>
<circle cx="119.1" cy="330.97" r="2.2" fill="#e8342b"/>
<circle cx="121.6" cy="330.56" r="2.2" fill="#e8342b"/>
<circle cx="114.6" cy="332.32" r="2.2" fill="#e8342b"/>
<circle cx="120.6" cy="332.32" r="2.2" fill="#e8342b"/>
<circle cx="117.6" cy="332.32" r="2.2" fill="#e8342b"/>
<rect x="145.05" y="258.01" width="11.1" height="74.99" fill="#707070" stroke="#000" stroke-width="1.7"/>
<line x1="150.6" y1="258.01" x2="150.6" y2="244.05" stroke="#000" stroke-width="1.0"/>
<line x1="147.6" y1="244.05" x2="153.6" y2="244.05" stroke="#000" stroke-width="1.0"/>
<circle cx="150.6" cy="231.84" r="2.2" fill="#000"/>
<circle cx="150.6" cy="248.52" r="2.2" fill="#000"/>
<circle cx="150.6" cy="253.81" r="2.2" fill="#000"/>
<circle cx="146.1" cy="258.96" r="2.2" fill="#000"/>
<circle cx="154.6" cy="258.96" r="2.2" fill="#000"/>
<circle cx="146.1" cy="265.74" r="2.2" fill="#000"/>
<circle cx="154.6" cy="267.51" r="2.2" fill="#000"/>
<circle cx="146.6" cy="271.57" r="2.2" fill="#000"/>
<circle cx="154.6" cy="271.57" r="2.2" fill="#000"/>
<rect x="164.25" y="259.78" width="11.1" height="73.22" fill="#f4a38e" stroke="#e8342b" stroke-width="1.7"/>
<line x1="169.8" y1="259.78" x2="169.8" y2="231.84" stroke="#f07b70" stroke-width="1.0"/>
<line x1="166.8" y1="231.84" x2="172.8" y2="231.84" stroke="#f07b70" stroke-width="1.0"/>
<circle cx="169.8" cy="231.84" r="2.2" fill="#e8342b"/>
<circle cx="165.6" cy="237.54" r="2.2" fill="#e8342b"/>
<circle cx="174.3" cy="236.86" r="2.2" fill="#e8342b"/>
<circle cx="165.8" cy="251.23" r="2.2" fill="#e8342b"/>
<circle cx="174.3" cy="248.25" r="2.2" fill="#e8342b"/>
<circle cx="169.8" cy="264.79" r="2.2" fill="#e8342b"/>
<circle cx="169.8" cy="271.17" r="2.2" fill="#e8342b"/>
<circle cx="169.8" cy="282.96" r="2.2" fill="#e8342b"/>
<circle cx="169.8" cy="305.47" r="2.2" fill="#e8342b"/>
<rect x="184.05" y="261.81" width="11.1" height="71.19" fill="#fff" stroke="#000" stroke-width="1.7"/>
<line x1="189.6" y1="261.81" x2="189.6" y2="248.52" stroke="#444" stroke-width="1.0"/>
<line x1="186.6" y1="248.52" x2="192.6" y2="248.52" stroke="#444" stroke-width="1.0"/>
<circle cx="189.6" cy="239.44" r="2.2" fill="#000"/>
<circle cx="189.6" cy="246.35" r="2.2" fill="#000"/>
<circle cx="189.6" cy="253.4" r="2.2" fill="#000"/>
<circle cx="189.6" cy="258.96" r="2.2" fill="#000"/>
<circle cx="188.1" cy="267.1" r="2.2" fill="#000"/>
<circle cx="191.4" cy="265.2" r="2.2" fill="#000"/>
<circle cx="190.8" cy="269" r="2.2" fill="#000"/>
<circle cx="189.4" cy="274.56" r="2.2" fill="#000"/>
<rect x="204.05" y="257.06" width="11.1" height="75.94" fill="#fff" stroke="#e8342b" stroke-width="1.7"/>
<line x1="209.6" y1="257.06" x2="209.6" y2="248.93" stroke="#e8342b" stroke-width="1.0"/>
<line x1="206.6" y1="248.93" x2="212.6" y2="248.93" stroke="#e8342b" stroke-width="1.0"/>
<circle cx="211.6" cy="245.94" r="2.2" fill="#e8342b"/>
<circle cx="209.6" cy="249.47" r="2.2" fill="#e8342b"/>
<circle cx="208.1" cy="252.05" r="2.2" fill="#e8342b"/>
<circle cx="205.6" cy="255.71" r="2.2" fill="#e8342b"/>
<circle cx="208.6" cy="256.39" r="2.2" fill="#e8342b"/>
<circle cx="211.6" cy="255.71" r="2.2" fill="#e8342b"/>
<circle cx="214.1" cy="256.39" r="2.2" fill="#e8342b"/>
<circle cx="207.6" cy="257.74" r="2.2" fill="#e8342b"/>
<circle cx="208.6" cy="263.03" r="2.2" fill="#e8342b"/>
<circle cx="210.6" cy="264.12" r="2.2" fill="#e8342b"/>
<circle cx="209.3" cy="274.96" r="2.2" fill="#e8342b"/>
<line x1="45.9" y1="224.52" x2="45.9" y2="333" stroke="#000" stroke-width="1.3"/>
<line x1="40.3" y1="333" x2="46.55" y2="333" stroke="#000" stroke-width="1.3"/>
<text x="38.5" y="335.95" font-size="8.2" font-weight="bold" text-anchor="end" fill="#000">0</text>
<line x1="40.3" y1="305.88" x2="46.55" y2="305.88" stroke="#000" stroke-width="1.3"/>
<text x="38.5" y="308.83" font-size="8.2" font-weight="bold" text-anchor="end" fill="#000">20</text>
<line x1="40.3" y1="278.76" x2="46.55" y2="278.76" stroke="#000" stroke-width="1.3"/>
<text x="38.5" y="281.71" font-size="8.2" font-weight="bold" text-anchor="end" fill="#000">40</text>
<line x1="40.3" y1="251.64" x2="46.55" y2="251.64" stroke="#000" stroke-width="1.3"/>
<text x="38.5" y="254.59" font-size="8.2" font-weight="bold" text-anchor="end" fill="#000">60</text>
<line x1="40.3" y1="224.52" x2="46.55" y2="224.52" stroke="#000" stroke-width="1.3"/>
<text x="38.5" y="227.47" font-size="8.2" font-weight="bold" text-anchor="end" fill="#000">80</text>
<line x1="45.25" y1="333" x2="223.3" y2="333" stroke="#000" stroke-width="1.3"/>
<path d="M58.2 246 L58.2 220.1 L117.7 220.1 L117.7 225" fill="none" stroke="#000" stroke-width="1.1"/>
<path d="M87.95 212.15 L88.6 213.38 L89.99 213.32 L89.24 214.5 L89.99 215.68 L88.6 215.62 L87.95 216.85 L87.3 215.62 L85.91 215.68 L86.66 214.5 L85.91 213.32 L87.3 213.38 Z" fill="#000"/>
<path d="M97.6 237.3 L97.6 231.5 L117.7 231.5 L117.7 306" fill="none" stroke="#000" stroke-width="1.1"/>
<path d="M107.65 223.65 L108.3 224.88 L109.69 224.82 L108.94 226 L109.69 227.18 L108.3 227.12 L107.65 228.35 L107 227.12 L105.61 227.18 L106.36 226 L105.61 224.82 L107 224.88 Z" fill="#000"/>
<text x="60.2" y="340.5" font-size="8.4" font-weight="bold" text-anchor="end" fill="#000" transform="rotate(-45 60.2 340.5)">PBS+diluent</text>
<text x="79.5" y="340.5" font-size="8.4" font-weight="bold" text-anchor="end" fill="#000" transform="rotate(-45 79.5 340.5)">PBS+IL7</text>
<text x="99.4" y="340.5" font-size="8.4" font-weight="bold" text-anchor="end" fill="#000" transform="rotate(-45 99.4 340.5)">ZIKV+diluent</text>
<text x="119.2" y="340.5" font-size="8.4" font-weight="bold" text-anchor="end" fill="#000" transform="rotate(-45 119.2 340.5)">ZIKV+IL7</text>
<text x="152.2" y="340.5" font-size="8.4" font-weight="bold" text-anchor="end" fill="#000" transform="rotate(-45 152.2 340.5)">PBS+diluent</text>
<text x="171.4" y="340.5" font-size="8.4" font-weight="bold" text-anchor="end" fill="#000" transform="rotate(-45 171.4 340.5)">PBS+IL7</text>
<text x="191.2" y="340.5" font-size="8.4" font-weight="bold" text-anchor="end" fill="#000" transform="rotate(-45 191.2 340.5)">ZIKV+diluent</text>
<text x="211.2" y="340.5" font-size="8.4" font-weight="bold" text-anchor="end" fill="#000" transform="rotate(-45 211.2 340.5)">ZIKV+IL7</text>
<line x1="19.5" y1="378.5" x2="104.1" y2="378.5" stroke="#000" stroke-width="1.1"/>
<text x="61.8" y="388.2" font-size="7.8" font-weight="bold" text-anchor="middle" fill="#000">Day 17</text>
<line x1="113.2" y1="378.5" x2="197.4" y2="378.5" stroke="#000" stroke-width="1.1"/>
<text x="155.3" y="388.2" font-size="7.8" font-weight="bold" text-anchor="middle" fill="#000">Day 21</text>
<text x="238.1" y="207" font-size="11.8" font-weight="bold" text-anchor="start" fill="#000">F</text>
<text x="307.5" y="209.8" font-size="11.2" font-weight="bold" text-anchor="start" fill="#000">SB28 Brain - CD8<tspan dy="-4.26" font-size="6.72">+</tspan><tspan dy="4.26"> TIM-3</tspan><tspan dy="-4.26" font-size="6.72">+</tspan></text>
<text x="252.6" y="280.5" font-size="8.7" font-weight="bold" text-anchor="middle" fill="#000" transform="rotate(-90 252.6 280.5)">% of CD8<tspan dy="-3.04" font-size="5.22">+</tspan><tspan dy="3.04"> cells</tspan></text>
<rect x="282.45" y="296" width="10.9" height="36.1" fill="#707070" stroke="#000" stroke-width="1.7"/>
<line x1="287.9" y1="296" x2="287.9" y2="282.1" stroke="#000" stroke-width="1.0"/>
<line x1="284.9" y1="282.1" x2="290.9" y2="282.1" stroke="#000" stroke-width="1.0"/>
<circle cx="287.9" cy="272.17" r="2.2" fill="#000"/>
<circle cx="283.4" cy="287.88" r="2.2" fill="#000"/>
<circle cx="292.4" cy="286.98" r="2.2" fill="#000"/>
<circle cx="286.4" cy="285.17" r="2.2" fill="#000"/>
<circle cx="291.9" cy="294.2" r="2.2" fill="#000"/>
<circle cx="283.9" cy="297.81" r="2.2" fill="#000"/>
<circle cx="287.9" cy="303.22" r="2.2" fill="#000"/>
<circle cx="291.9" cy="306.83" r="2.2" fill="#000"/>
<circle cx="283.9" cy="310.44" r="2.2" fill="#000"/>
<circle cx="287.9" cy="313.15" r="2.2" fill="#000"/>
<rect x="302.45" y="323.98" width="10.9" height="8.12" fill="#f4a38e" stroke="#e8342b" stroke-width="1.7"/>
<line x1="307.9" y1="323.98" x2="307.9" y2="319.83" stroke="#f07b70" stroke-width="1.0"/>
<line x1="304.9" y1="319.83" x2="310.9" y2="319.83" stroke="#f07b70" stroke-width="1.0"/>
<circle cx="307.9" cy="316.76" r="2.2" fill="#e8342b"/>
<circle cx="304.9" cy="322.17" r="2.2" fill="#e8342b"/>
<circle cx="310.9" cy="323.08" r="2.2" fill="#e8342b"/>
<circle cx="307.9" cy="324.88" r="2.2" fill="#e8342b"/>
<circle cx="303.9" cy="326.69" r="2.2" fill="#e8342b"/>
<circle cx="311.9" cy="327.59" r="2.2" fill="#e8342b"/>
<circle cx="305.9" cy="329.39" r="2.2" fill="#e8342b"/>
<circle cx="309.9" cy="330.3" r="2.2" fill="#e8342b"/>
<rect x="321.65" y="292.39" width="10.9" height="39.71" fill="#fff" stroke="#000" stroke-width="1.7"/>
<line x1="327.1" y1="292.39" x2="327.1" y2="278.13" stroke="#444" stroke-width="1.0"/>
<line x1="324.1" y1="278.13" x2="330.1" y2="278.13" stroke="#444" stroke-width="1.0"/>
<circle cx="327.1" cy="258.46" r="2.2" fill="#000"/>
<circle cx="327.1" cy="283.37" r="2.2" fill="#000"/>
<circle cx="322.6" cy="292.39" r="2.2" fill="#000"/>
<circle cx="331.6" cy="292.39" r="2.2" fill="#000"/>
<circle cx="326.1" cy="294.2" r="2.2" fill="#000"/>
<circle cx="322.6" cy="301.42" r="2.2" fill="#000"/>
<circle cx="331.6" cy="301.42" r="2.2" fill="#000"/>
<circle cx="327.1" cy="305.03" r="2.2" fill="#000"/>
<circle cx="331.1" cy="310.44" r="2.2" fill="#000"/>
<circle cx="327.1" cy="314.95" r="2.2" fill="#000"/>
<rect x="341.75" y="329.39" width="10.9" height="2.71" fill="#fff" stroke="#e8342b" stroke-width="1.7"/>
<line x1="347.2" y1="329.39" x2="347.2" y2="326.69" stroke="#e8342b" stroke-width="1.0"/>
<line x1="344.2" y1="326.69" x2="350.2" y2="326.69" stroke="#e8342b" stroke-width="1.0"/>
<circle cx="347.2" cy="320.37" r="2.2" fill="#e8342b"/>
<circle cx="347.2" cy="326.69" r="2.2" fill="#e8342b"/>
<circle cx="344.2" cy="328.49" r="2.2" fill="#e8342b"/>
<circle cx="350.2" cy="329.39" r="2.2" fill="#e8342b"/>
<circle cx="343.2" cy="330.3" r="2.2" fill="#e8342b"/>
<circle cx="351.2" cy="330.66" r="2.2" fill="#e8342b"/>
<circle cx="347.2" cy="331.02" r="2.2" fill="#e8342b"/>
<rect x="374.15" y="284.63" width="10.9" height="47.47" fill="#707070" stroke="#000" stroke-width="1.7"/>
<line x1="379.6" y1="284.63" x2="379.6" y2="261.89" stroke="#000" stroke-width="1.0"/>
<line x1="376.6" y1="261.89" x2="382.6" y2="261.89" stroke="#000" stroke-width="1.0"/>
<circle cx="379.6" cy="230.3" r="2.2" fill="#000"/>
<circle cx="375.6" cy="286.25" r="2.2" fill="#000"/>
<circle cx="384.1" cy="286.25" r="2.2" fill="#000"/>
<circle cx="379.6" cy="285.35" r="2.2" fill="#000"/>
<circle cx="379.6" cy="288.96" r="2.2" fill="#000"/>
<circle cx="375.6" cy="290.95" r="2.2" fill="#000"/>
<circle cx="383.6" cy="290.95" r="2.2" fill="#000"/>
<circle cx="379.6" cy="298.53" r="2.2" fill="#000"/>
<circle cx="379.6" cy="307.01" r="2.2" fill="#000"/>
<rect x="393.85" y="285.17" width="10.9" height="46.93" fill="#f4a38e" stroke="#e8342b" stroke-width="1.7"/>
<line x1="399.3" y1="285.17" x2="399.3" y2="269.65" stroke="#f07b70" stroke-width="1.0"/>
<line x1="396.3" y1="269.65" x2="402.3" y2="269.65" stroke="#f07b70" stroke-width="1.0"/>
<circle cx="399.3" cy="264.59" r="2.2" fill="#e8342b"/>
<circle cx="399.3" cy="271.45" r="2.2" fill="#e8342b"/>
<circle cx="396.3" cy="276.69" r="2.2" fill="#e8342b"/>
<circle cx="401.8" cy="277.59" r="2.2" fill="#e8342b"/>
<circle cx="394.5" cy="282.28" r="2.2" fill="#e8342b"/>
<circle cx="399.3" cy="282.28" r="2.2" fill="#e8342b"/>
<circle cx="404" cy="283.18" r="2.2" fill="#e8342b"/>
<circle cx="399.3" cy="286.07" r="2.2" fill="#e8342b"/>
<circle cx="399.3" cy="304.48" r="2.2" fill="#e8342b"/>
<circle cx="399.3" cy="315.49" r="2.2" fill="#e8342b"/>
<rect x="413.45" y="280.84" width="10.9" height="51.26" fill="#fff" stroke="#000" stroke-width="1.7"/>
<line x1="418.9" y1="280.84" x2="418.9" y2="274.34" stroke="#444" stroke-width="1.0"/>
<line x1="415.9" y1="274.34" x2="421.9" y2="274.34" stroke="#444" stroke-width="1.0"/>
<circle cx="418.9" cy="269.47" r="2.2" fill="#000"/>
<circle cx="414.5" cy="273.62" r="2.2" fill="#000"/>
<circle cx="422.9" cy="277.59" r="2.2" fill="#000"/>
<circle cx="417.9" cy="278.49" r="2.2" fill="#000"/>
<circle cx="418.9" cy="285.17" r="2.2" fill="#000"/>
<circle cx="418.9" cy="292.75" r="2.2" fill="#000"/>
<rect x="433.35" y="296" width="10.9" height="36.1" fill="#fff" stroke="#e8342b" stroke-width="1.7"/>
<line x1="438.8" y1="296" x2="438.8" y2="286.98" stroke="#e8342b" stroke-width="1.0"/>
<line x1="435.8" y1="286.98" x2="441.8" y2="286.98" stroke="#e8342b" stroke-width="1.0"/>
<circle cx="437.2" cy="282.46" r="2.2" fill="#e8342b"/>
<circle cx="434.4" cy="287.52" r="2.2" fill="#e8342b"/>
<circle cx="439.7" cy="287.52" r="2.2" fill="#e8342b"/>
<circle cx="442.9" cy="287.16" r="2.2" fill="#e8342b"/>
<circle cx="439.5" cy="293.65" r="2.2" fill="#e8342b"/>
<circle cx="439.5" cy="299.43" r="2.2" fill="#e8342b"/>
<circle cx="438.8" cy="303.22" r="2.2" fill="#e8342b"/>
<circle cx="439.5" cy="310.8" r="2.2" fill="#e8342b"/>
<circle cx="439.5" cy="315.49" r="2.2" fill="#e8342b"/>
<line x1="273.9" y1="223.8" x2="273.9" y2="332.1" stroke="#000" stroke-width="1.3"/>
<line x1="268.3" y1="332.1" x2="274.55" y2="332.1" stroke="#000" stroke-width="1.3"/>
<text x="266.5" y="335.05" font-size="8.2" font-weight="bold" text-anchor="end" fill="#000">0</text>
<line x1="268.3" y1="296" x2="274.55" y2="296" stroke="#000" stroke-width="1.3"/>
<text x="266.5" y="298.95" font-size="8.2" font-weight="bold" text-anchor="end" fill="#000">20</text>
<line x1="268.3" y1="259.9" x2="274.55" y2="259.9" stroke="#000" stroke-width="1.3"/>
<text x="266.5" y="262.85" font-size="8.2" font-weight="bold" text-anchor="end" fill="#000">40</text>
<line x1="268.3" y1="223.8" x2="274.55" y2="223.8" stroke="#000" stroke-width="1.3"/>
<text x="266.5" y="226.75" font-size="8.2" font-weight="bold" text-anchor="end" fill="#000">60</text>
<line x1="273.25" y1="332.1" x2="451.5" y2="332.1" stroke="#000" stroke-width="1.3"/>
<path d="M287.6 242 L287.6 234.3 L347.6 234.3 L347.6 242" fill="none" stroke="#000" stroke-width="1.1"/>
<path d="M317.6 226.85 L318.25 228.08 L319.64 228.02 L318.89 229.2 L319.64 230.38 L318.25 230.32 L317.6 231.55 L316.95 230.32 L315.56 230.38 L316.31 229.2 L315.56 228.02 L316.95 228.08 Z" fill="#000"/>
<path d="M287.6 264.8 L287.6 247.5 L304.6 247.5 L304.6 311" fill="none" stroke="#000" stroke-width="1.1"/>
<path d="M296.1 239.15 L296.75 240.38 L298.14 240.32 L297.39 241.5 L298.14 242.68 L296.75 242.62 L296.1 243.85 L295.45 242.62 L294.06 242.68 L294.81 241.5 L294.06 240.32 L295.45 240.38 Z" fill="#000"/>
<path d="M309.9 311 L309.9 247.5 L325 247.5 L325 253" fill="none" stroke="#000" stroke-width="1.1"/>
<path d="M317.45 239.15 L318.1 240.38 L319.49 240.32 L318.74 241.5 L319.49 242.68 L318.1 242.62 L317.45 243.85 L316.8 242.62 L315.41 242.68 L316.16 241.5 L315.41 240.32 L316.8 240.38 Z" fill="#000"/>
<path d="M329.4 253 L329.4 247.5 L347.6 247.5 L347.6 313.5" fill="none" stroke="#000" stroke-width="1.1"/>
<path d="M338.5 239.15 L339.15 240.38 L340.54 240.32 L339.79 241.5 L340.54 242.68 L339.15 242.62 L338.5 243.85 L337.85 242.62 L336.46 242.68 L337.21 241.5 L336.46 240.32 L337.85 240.38 Z" fill="#000"/>
<text x="289.5" y="339.6" font-size="8.4" font-weight="bold" text-anchor="end" fill="#000" transform="rotate(-45 289.5 339.6)">PBS+diluent</text>
<text x="309.5" y="339.6" font-size="8.4" font-weight="bold" text-anchor="end" fill="#000" transform="rotate(-45 309.5 339.6)">PBS+IL7</text>
<text x="328.7" y="339.6" font-size="8.4" font-weight="bold" text-anchor="end" fill="#000" transform="rotate(-45 328.7 339.6)">ZIKV+diluent</text>
<text x="348.8" y="339.6" font-size="8.4" font-weight="bold" text-anchor="end" fill="#000" transform="rotate(-45 348.8 339.6)">ZIKV+IL7</text>
<text x="381.2" y="339.6" font-size="8.4" font-weight="bold" text-anchor="end" fill="#000" transform="rotate(-45 381.2 339.6)">PBS+diluent</text>
<text x="400.9" y="339.6" font-size="8.4" font-weight="bold" text-anchor="end" fill="#000" transform="rotate(-45 400.9 339.6)">PBS+IL7</text>
<text x="420.5" y="339.6" font-size="8.4" font-weight="bold" text-anchor="end" fill="#000" transform="rotate(-45 420.5 339.6)">ZIKV+diluent</text>
<text x="440.4" y="339.6" font-size="8.4" font-weight="bold" text-anchor="end" fill="#000" transform="rotate(-45 440.4 339.6)">ZIKV+IL7</text>
<line x1="249.2" y1="378.5" x2="334.1" y2="378.5" stroke="#000" stroke-width="1.1"/>
<text x="291.65" y="388.2" font-size="7.8" font-weight="bold" text-anchor="middle" fill="#000">Day 17</text>
<line x1="342.5" y1="378.5" x2="427.2" y2="378.5" stroke="#000" stroke-width="1.1"/>
<text x="384.85" y="388.2" font-size="7.8" font-weight="bold" text-anchor="middle" fill="#000">Day 21</text>
<text x="469.8" y="207" font-size="11.8" font-weight="bold" text-anchor="start" fill="#000">G</text>
<text x="538.5" y="209.8" font-size="11.2" font-weight="bold" text-anchor="start" fill="#000">SB28 Brain - CD8<tspan dy="-4.26" font-size="6.72">+</tspan><tspan dy="4.26"> LAG-3</tspan><tspan dy="-4.26" font-size="6.72">+</tspan></text>
<text x="485.9" y="280.5" font-size="8.7" font-weight="bold" text-anchor="middle" fill="#000" transform="rotate(-90 485.9 280.5)">% of CD8<tspan dy="-3.04" font-size="5.22">+</tspan><tspan dy="3.04"> cells</tspan></text>
<rect x="515.25" y="286.06" width="10.8" height="46.54" fill="#707070" stroke="#000" stroke-width="1.7"/>
<line x1="520.65" y1="286.06" x2="520.65" y2="266.9" stroke="#000" stroke-width="1.0"/>
<line x1="517.65" y1="266.9" x2="523.65" y2="266.9" stroke="#000" stroke-width="1.0"/>
<circle cx="520.65" cy="266.5" r="2.2" fill="#000"/>
<circle cx="516.65" cy="271.9" r="2.2" fill="#000"/>
<circle cx="524.65" cy="271.9" r="2.2" fill="#000"/>
<circle cx="520.65" cy="281.34" r="2.2" fill="#000"/>
<circle cx="516.65" cy="288.08" r="2.2" fill="#000"/>
<circle cx="524.65" cy="289.43" r="2.2" fill="#000"/>
<circle cx="520.65" cy="293.48" r="2.2" fill="#000"/>
<circle cx="516.65" cy="296.18" r="2.2" fill="#000"/>
<circle cx="524.65" cy="297.53" r="2.2" fill="#000"/>
<circle cx="520.65" cy="305.62" r="2.2" fill="#000"/>
<rect x="535.15" y="322.48" width="10.8" height="10.12" fill="#f4a38e" stroke="#e8342b" stroke-width="1.7"/>
<line x1="540.55" y1="322.48" x2="540.55" y2="315.06" stroke="#f07b70" stroke-width="1.0"/>
<line x1="537.55" y1="315.06" x2="543.55" y2="315.06" stroke="#f07b70" stroke-width="1.0"/>
<circle cx="540.55" cy="302.25" r="2.2" fill="#e8342b"/>
<circle cx="536.55" cy="320.46" r="2.2" fill="#e8342b"/>
<circle cx="544.55" cy="320.46" r="2.2" fill="#e8342b"/>
<circle cx="540.55" cy="321.81" r="2.2" fill="#e8342b"/>
<circle cx="537.55" cy="324.51" r="2.2" fill="#e8342b"/>
<circle cx="543.55" cy="325.86" r="2.2" fill="#e8342b"/>
<circle cx="540.55" cy="328.55" r="2.2" fill="#e8342b"/>
<circle cx="538.55" cy="331.25" r="2.2" fill="#e8342b"/>
<circle cx="542.55" cy="331.52" r="2.2" fill="#e8342b"/>
<rect x="554.85" y="275.94" width="10.8" height="56.66" fill="#fff" stroke="#000" stroke-width="1.7"/>
<line x1="560.25" y1="275.94" x2="560.25" y2="263.13" stroke="#444" stroke-width="1.0"/>
<line x1="557.25" y1="263.13" x2="563.25" y2="263.13" stroke="#444" stroke-width="1.0"/>
<circle cx="560.25" cy="251.66" r="2.2" fill="#000"/>
<circle cx="555.65" cy="267.58" r="2.2" fill="#000"/>
<circle cx="564.45" cy="267.58" r="2.2" fill="#000"/>
<circle cx="564.25" cy="272.16" r="2.2" fill="#000"/>
<circle cx="555.65" cy="276.75" r="2.2" fill="#000"/>
<circle cx="564.25" cy="280.66" r="2.2" fill="#000"/>
<circle cx="555.65" cy="286.73" r="2.2" fill="#000"/>
<circle cx="564.45" cy="287.27" r="2.2" fill="#000"/>
<circle cx="560.25" cy="294.56" r="2.2" fill="#000"/>
<rect x="574.45" y="326.26" width="10.8" height="6.34" fill="#fff" stroke="#e8342b" stroke-width="1.7"/>
<line x1="579.85" y1="326.26" x2="579.85" y2="318.44" stroke="#e8342b" stroke-width="1.0"/>
<line x1="576.85" y1="318.44" x2="582.85" y2="318.44" stroke="#e8342b" stroke-width="1.0"/>
<circle cx="579.85" cy="308.32" r="2.2" fill="#e8342b"/>
<circle cx="579.85" cy="314.79" r="2.2" fill="#e8342b"/>
<circle cx="579.85" cy="324.51" r="2.2" fill="#e8342b"/>
<circle cx="576.85" cy="327.2" r="2.2" fill="#e8342b"/>
<circle cx="582.85" cy="328.55" r="2.2" fill="#e8342b"/>
<circle cx="579.85" cy="329.36" r="2.2" fill="#e8342b"/>
<circle cx="576.35" cy="331.25" r="2.2" fill="#e8342b"/>
<circle cx="583.35" cy="331.52" r="2.2" fill="#e8342b"/>
<circle cx="578.35" cy="331.93" r="2.2" fill="#e8342b"/>
<circle cx="581.35" cy="331.93" r="2.2" fill="#e8342b"/>
<rect x="607.05" y="284.31" width="10.8" height="48.29" fill="#707070" stroke="#000" stroke-width="1.7"/>
<line x1="612.45" y1="284.31" x2="612.45" y2="271.22" stroke="#000" stroke-width="1.0"/>
<line x1="609.45" y1="271.22" x2="615.45" y2="271.22" stroke="#000" stroke-width="1.0"/>
<circle cx="612.45" cy="255.44" r="2.2" fill="#000"/>
<circle cx="611.45" cy="281.61" r="2.2" fill="#000"/>
<circle cx="615.45" cy="285.39" r="2.2" fill="#000"/>
<circle cx="607.95" cy="289.43" r="2.2" fill="#000"/>
<circle cx="616.95" cy="290.11" r="2.2" fill="#000"/>
<circle cx="608.45" cy="296.18" r="2.2" fill="#000"/>
<circle cx="615.95" cy="296.18" r="2.2" fill="#000"/>
<circle cx="612.45" cy="298.88" r="2.2" fill="#000"/>
<rect x="626.95" y="283.09" width="10.8" height="49.51" fill="#f4a38e" stroke="#e8342b" stroke-width="1.7"/>
<line x1="632.35" y1="283.09" x2="632.35" y2="264.75" stroke="#f07b70" stroke-width="1.0"/>
<line x1="629.35" y1="264.75" x2="635.35" y2="264.75" stroke="#f07b70" stroke-width="1.0"/>
<circle cx="627.85" cy="264.07" r="2.2" fill="#e8342b"/>
<circle cx="636.85" cy="267.04" r="2.2" fill="#e8342b"/>
<circle cx="631.35" cy="270.55" r="2.2" fill="#e8342b"/>
<circle cx="633.85" cy="275.94" r="2.2" fill="#e8342b"/>
<circle cx="633.35" cy="283.36" r="2.2" fill="#e8342b"/>
<circle cx="636.35" cy="288.22" r="2.2" fill="#e8342b"/>
<circle cx="632.35" cy="301.03" r="2.2" fill="#e8342b"/>
<circle cx="632.35" cy="318.03" r="2.2" fill="#e8342b"/>
<rect x="647.05" y="267.31" width="10.8" height="65.29" fill="#fff" stroke="#000" stroke-width="1.7"/>
<line x1="652.45" y1="267.31" x2="652.45" y2="261.1" stroke="#444" stroke-width="1.0"/>
<line x1="649.45" y1="261.1" x2="655.45" y2="261.1" stroke="#444" stroke-width="1.0"/>
<circle cx="652.45" cy="255.98" r="2.2" fill="#000"/>
<circle cx="647.95" cy="260.29" r="2.2" fill="#000"/>
<circle cx="656.95" cy="260.29" r="2.2" fill="#000"/>
<circle cx="648.45" cy="267.04" r="2.2" fill="#000"/>
<circle cx="656.95" cy="267.31" r="2.2" fill="#000"/>
<circle cx="652.45" cy="271.22" r="2.2" fill="#000"/>
<circle cx="647.95" cy="275.27" r="2.2" fill="#000"/>
<circle cx="656.95" cy="275.94" r="2.2" fill="#000"/>
<rect x="666.45" y="279.04" width="10.8" height="53.56" fill="#fff" stroke="#e8342b" stroke-width="1.7"/>
<line x1="671.85" y1="279.04" x2="671.85" y2="271.9" stroke="#e8342b" stroke-width="1.0"/>
<line x1="668.85" y1="271.9" x2="674.85" y2="271.9" stroke="#e8342b" stroke-width="1.0"/>
<circle cx="667.35" cy="267.98" r="2.2" fill="#e8342b"/>
<circle cx="671.85" cy="267.98" r="2.2" fill="#e8342b"/>
<circle cx="676.35" cy="267.98" r="2.2" fill="#e8342b"/>
<circle cx="671.85" cy="274.46" r="2.2" fill="#e8342b"/>
<circle cx="667.35" cy="279.18" r="2.2" fill="#e8342b"/>
<circle cx="676.35" cy="278.77" r="2.2" fill="#e8342b"/>
<circle cx="671.85" cy="283.36" r="2.2" fill="#e8342b"/>
<circle cx="672.35" cy="289.43" r="2.2" fill="#e8342b"/>
<circle cx="671.85" cy="297.93" r="2.2" fill="#e8342b"/>
<line x1="507.2" y1="224.68" x2="507.2" y2="332.6" stroke="#000" stroke-width="1.3"/>
<line x1="501.6" y1="332.6" x2="507.85" y2="332.6" stroke="#000" stroke-width="1.3"/>
<text x="499.8" y="335.55" font-size="8.2" font-weight="bold" text-anchor="end" fill="#000">0</text>
<line x1="501.6" y1="305.62" x2="507.85" y2="305.62" stroke="#000" stroke-width="1.3"/>
<text x="499.8" y="308.57" font-size="8.2" font-weight="bold" text-anchor="end" fill="#000">20</text>
<line x1="501.6" y1="278.64" x2="507.85" y2="278.64" stroke="#000" stroke-width="1.3"/>
<text x="499.8" y="281.59" font-size="8.2" font-weight="bold" text-anchor="end" fill="#000">40</text>
<line x1="501.6" y1="251.66" x2="507.85" y2="251.66" stroke="#000" stroke-width="1.3"/>
<text x="499.8" y="254.61" font-size="8.2" font-weight="bold" text-anchor="end" fill="#000">60</text>
<line x1="501.6" y1="224.68" x2="507.85" y2="224.68" stroke="#000" stroke-width="1.3"/>
<text x="499.8" y="227.63" font-size="8.2" font-weight="bold" text-anchor="end" fill="#000">80</text>
<line x1="506.55" y1="332.6" x2="685" y2="332.6" stroke="#000" stroke-width="1.3"/>
<path d="M520.5 234.6 L520.5 228.5 L580.3 228.5 L580.3 234.6" fill="none" stroke="#000" stroke-width="1.1"/>
<path d="M550.4 220.25 L551.05 221.48 L552.44 221.42 L551.69 222.6 L552.44 223.78 L551.05 223.72 L550.4 224.95 L549.75 223.72 L548.36 223.78 L549.11 222.6 L548.36 221.42 L549.75 221.48 Z" fill="#000"/>
<path d="M520.5 256.4 L520.5 239.7 L538.5 239.7 L538.5 297" fill="none" stroke="#000" stroke-width="1.1"/>
<path d="M529.5 231.65 L530.15 232.88 L531.54 232.82 L530.79 234 L531.54 235.18 L530.15 235.12 L529.5 236.35 L528.85 235.12 L527.46 235.18 L528.21 234 L527.46 232.82 L528.85 232.88 Z" fill="#000"/>
<path d="M542.5 297 L542.5 239.7 L559 239.7 L559 246" fill="none" stroke="#000" stroke-width="1.1"/>
<path d="M548.7 231.65 L549.35 232.88 L550.74 232.82 L549.99 234 L550.74 235.18 L549.35 235.12 L548.7 236.35 L548.05 235.12 L546.66 235.18 L547.41 234 L546.66 232.82 L548.05 232.88 Z" fill="#000"/>
<path d="M552.8 231.65 L553.45 232.88 L554.84 232.82 L554.09 234 L554.84 235.18 L553.45 235.12 L552.8 236.35 L552.15 235.12 L550.76 235.18 L551.51 234 L550.76 232.82 L552.15 232.88 Z" fill="#000"/>
<path d="M562.2 246 L562.2 239.7 L580 239.7 L580 300.8" fill="none" stroke="#000" stroke-width="1.1"/>
<path d="M569.05 231.65 L569.7 232.88 L571.09 232.82 L570.34 234 L571.09 235.18 L569.7 235.12 L569.05 236.35 L568.4 235.12 L567.01 235.18 L567.76 234 L567.01 232.82 L568.4 232.88 Z" fill="#000"/>
<path d="M573.15 231.65 L573.8 232.88 L575.19 232.82 L574.44 234 L575.19 235.18 L573.8 235.12 L573.15 236.35 L572.5 235.12 L571.11 235.18 L571.86 234 L571.11 232.82 L572.5 232.88 Z" fill="#000"/>
<text x="522.25" y="340.1" font-size="8.4" font-weight="bold" text-anchor="end" fill="#000" transform="rotate(-45 522.25 340.1)">PBS+diluent</text>
<text x="542.15" y="340.1" font-size="8.4" font-weight="bold" text-anchor="end" fill="#000" transform="rotate(-45 542.15 340.1)">PBS+IL7</text>
<text x="561.85" y="340.1" font-size="8.4" font-weight="bold" text-anchor="end" fill="#000" transform="rotate(-45 561.85 340.1)">ZIKV+diluent</text>
<text x="581.45" y="340.1" font-size="8.4" font-weight="bold" text-anchor="end" fill="#000" transform="rotate(-45 581.45 340.1)">ZIKV+IL7</text>
<text x="614.05" y="340.1" font-size="8.4" font-weight="bold" text-anchor="end" fill="#000" transform="rotate(-45 614.05 340.1)">PBS+diluent</text>
<text x="633.95" y="340.1" font-size="8.4" font-weight="bold" text-anchor="end" fill="#000" transform="rotate(-45 633.95 340.1)">PBS+IL7</text>
<text x="654.05" y="340.1" font-size="8.4" font-weight="bold" text-anchor="end" fill="#000" transform="rotate(-45 654.05 340.1)">ZIKV+diluent</text>
<text x="673.45" y="340.1" font-size="8.4" font-weight="bold" text-anchor="end" fill="#000" transform="rotate(-45 673.45 340.1)">ZIKV+IL7</text>
<line x1="481.9" y1="378.5" x2="566.8" y2="378.5" stroke="#000" stroke-width="1.1"/>
<text x="524.35" y="388.2" font-size="7.8" font-weight="bold" text-anchor="middle" fill="#000">Day 17</text>
<line x1="575.2" y1="378.5" x2="659.8" y2="378.5" stroke="#000" stroke-width="1.1"/>
<text x="617.5" y="388.2" font-size="7.8" font-weight="bold" text-anchor="middle" fill="#000">Day 21</text>
<text x="0" y="415" font-size="11.8" font-weight="bold" text-anchor="start" fill="#000">H</text>
<text x="105.1" y="418.2" font-size="11.2" font-weight="bold" text-anchor="start" fill="#000">Day 21 SB28 Peripheral blood</text>
<text x="20.4" y="496.7" font-size="9.6" font-weight="bold" text-anchor="middle" fill="#000" transform="rotate(-90 20.4 496.7)">log10 cells/uL</text>
<rect x="45.35" y="493.98" width="11.4" height="62.62" fill="#707070" stroke="#000" stroke-width="1.9"/>
<line x1="51.05" y1="493.98" x2="51.05" y2="491.59" stroke="#000" stroke-width="1.0"/>
<line x1="48.05" y1="491.59" x2="54.05" y2="491.59" stroke="#000" stroke-width="1.0"/>
<circle cx="51.05" cy="487.05" r="2.2" fill="#000"/>
<circle cx="47.55" cy="491.11" r="2.2" fill="#000"/>
<circle cx="54.55" cy="491.59" r="2.2" fill="#000"/>
<circle cx="51.05" cy="492.55" r="2.2" fill="#000"/>
<circle cx="46.55" cy="494.46" r="2.2" fill="#000"/>
<circle cx="55.55" cy="494.94" r="2.2" fill="#000"/>
<circle cx="49.05" cy="496.85" r="2.2" fill="#000"/>
<circle cx="53.05" cy="497.33" r="2.2" fill="#000"/>
<rect x="65.85" y="489.2" width="11.4" height="67.4" fill="#f69a86" stroke="#ff2c10" stroke-width="1.9"/>
<circle cx="66.55" cy="478.93" r="2.2" fill="#ff2c10"/>
<circle cx="69.85" cy="482.03" r="2.2" fill="#ff2c10"/>
<circle cx="74.45" cy="483.47" r="2.2" fill="#ff2c10"/>
<circle cx="76.45" cy="483.47" r="2.2" fill="#ff2c10"/>
<circle cx="66.55" cy="485.62" r="2.2" fill="#ff2c10"/>
<circle cx="71.15" cy="505.69" r="2.2" fill="#ff2c10"/>
<circle cx="69.85" cy="510.95" r="2.2" fill="#ff2c10"/>
<circle cx="73.15" cy="513.1" r="2.2" fill="#ff2c10"/>
<circle cx="71.15" cy="518.84" r="2.2" fill="#ff2c10"/>
<rect x="86.25" y="495.18" width="11.4" height="61.42" fill="#fff" stroke="#000" stroke-width="1.9"/>
<line x1="91.95" y1="495.18" x2="91.95" y2="492.55" stroke="#444" stroke-width="1.0"/>
<line x1="88.95" y1="492.55" x2="94.95" y2="492.55" stroke="#444" stroke-width="1.0"/>
<circle cx="91.55" cy="490.64" r="2.2" fill="#000"/>
<circle cx="88.45" cy="493.98" r="2.2" fill="#000"/>
<circle cx="95.45" cy="494.46" r="2.2" fill="#000"/>
<circle cx="91.95" cy="495.66" r="2.2" fill="#000"/>
<circle cx="87.95" cy="496.85" r="2.2" fill="#000"/>
<circle cx="95.95" cy="496.85" r="2.2" fill="#000"/>
<circle cx="90.95" cy="499.72" r="2.2" fill="#000"/>
<circle cx="90.85" cy="502.35" r="2.2" fill="#000"/>
<rect x="106.05" y="480.12" width="11.4" height="76.48" fill="#fff" stroke="#ff2c10" stroke-width="1.9"/>
<line x1="111.75" y1="480.12" x2="111.75" y2="475.34" stroke="#ff2c10" stroke-width="1.0"/>
<line x1="108.75" y1="475.34" x2="114.75" y2="475.34" stroke="#ff2c10" stroke-width="1.0"/>
<circle cx="113.75" cy="472.95" r="2.2" fill="#ff2c10"/>
<circle cx="116.45" cy="473.43" r="2.2" fill="#ff2c10"/>
<circle cx="107.85" cy="476.06" r="2.2" fill="#ff2c10"/>
<circle cx="111.25" cy="474.86" r="2.2" fill="#ff2c10"/>
<circle cx="108.65" cy="479.4" r="2.2" fill="#ff2c10"/>
<circle cx="113.75" cy="480.12" r="2.2" fill="#ff2c10"/>
<circle cx="116.45" cy="481.32" r="2.2" fill="#ff2c10"/>
<circle cx="107.85" cy="483.94" r="2.2" fill="#ff2c10"/>
<circle cx="113.75" cy="485.38" r="2.2" fill="#ff2c10"/>
<circle cx="107.35" cy="489.2" r="2.2" fill="#ff2c10"/>
<circle cx="113.25" cy="488.49" r="2.2" fill="#ff2c10"/>
<rect x="139.75" y="499.72" width="11.4" height="56.88" fill="#707070" stroke="#000" stroke-width="1.9"/>
<line x1="145.45" y1="499.72" x2="145.45" y2="496.85" stroke="#000" stroke-width="1.0"/>
<line x1="142.45" y1="496.85" x2="148.45" y2="496.85" stroke="#000" stroke-width="1.0"/>
<circle cx="146.05" cy="492.55" r="2.2" fill="#000"/>
<circle cx="141.95" cy="497.33" r="2.2" fill="#000"/>
<circle cx="148.95" cy="498.05" r="2.2" fill="#000"/>
<circle cx="145.45" cy="498.76" r="2.2" fill="#000"/>
<circle cx="140.95" cy="500.91" r="2.2" fill="#000"/>
<circle cx="149.95" cy="500.91" r="2.2" fill="#000"/>
<circle cx="143.45" cy="502.11" r="2.2" fill="#000"/>
<circle cx="147.45" cy="502.59" r="2.2" fill="#000"/>
<rect x="160.25" y="493.98" width="11.4" height="62.62" fill="#f69a86" stroke="#ff2c10" stroke-width="1.9"/>
<circle cx="162.95" cy="485.14" r="2.2" fill="#ff2c10"/>
<circle cx="164.15" cy="486.57" r="2.2" fill="#ff2c10"/>
<circle cx="167.15" cy="489.2" r="2.2" fill="#ff2c10"/>
<circle cx="169.95" cy="487.29" r="2.2" fill="#ff2c10"/>
<circle cx="165.95" cy="511.91" r="2.2" fill="#ff2c10"/>
<circle cx="167.75" cy="517.17" r="2.2" fill="#ff2c10"/>
<circle cx="165.95" cy="527.68" r="2.2" fill="#ff2c10"/>
<rect x="180.45" y="500.2" width="11.4" height="56.4" fill="#fff" stroke="#000" stroke-width="1.9"/>
<line x1="186.15" y1="500.2" x2="186.15" y2="498.05" stroke="#444" stroke-width="1.0"/>
<line x1="183.15" y1="498.05" x2="189.15" y2="498.05" stroke="#444" stroke-width="1.0"/>
<circle cx="186.35" cy="497.09" r="2.2" fill="#000"/>
<circle cx="182.85" cy="500.91" r="2.2" fill="#000"/>
<circle cx="189.15" cy="500.91" r="2.2" fill="#000"/>
<circle cx="186.15" cy="500.2" r="2.2" fill="#000"/>
<circle cx="185.15" cy="504.98" r="2.2" fill="#000"/>
<circle cx="185.15" cy="507.84" r="2.2" fill="#000"/>
<rect x="200.95" y="488.01" width="11.4" height="68.59" fill="#fff" stroke="#ff2c10" stroke-width="1.9"/>
<line x1="206.65" y1="488.01" x2="206.65" y2="486.1" stroke="#ff2c10" stroke-width="1.0"/>
<line x1="203.65" y1="486.1" x2="209.65" y2="486.1" stroke="#ff2c10" stroke-width="1.0"/>
<circle cx="206.85" cy="481.08" r="2.2" fill="#ff2c10"/>
<circle cx="210.25" cy="484.42" r="2.2" fill="#ff2c10"/>
<circle cx="203.85" cy="484.42" r="2.2" fill="#ff2c10"/>
<circle cx="207.15" cy="484.9" r="2.2" fill="#ff2c10"/>
<circle cx="202.25" cy="488.01" r="2.2" fill="#ff2c10"/>
<circle cx="205.15" cy="488.96" r="2.2" fill="#ff2c10"/>
<circle cx="210.85" cy="488.49" r="2.2" fill="#ff2c10"/>
<circle cx="208.65" cy="491.59" r="2.2" fill="#ff2c10"/>
<circle cx="205.15" cy="493.03" r="2.2" fill="#ff2c10"/>
<circle cx="204.65" cy="496.85" r="2.2" fill="#ff2c10"/>
<rect x="235.25" y="504.5" width="11.4" height="52.1" fill="#707070" stroke="#000" stroke-width="1.9"/>
<line x1="240.95" y1="504.5" x2="240.95" y2="502.11" stroke="#000" stroke-width="1.0"/>
<line x1="237.95" y1="502.11" x2="243.95" y2="502.11" stroke="#000" stroke-width="1.0"/>
<circle cx="240.55" cy="496.85" r="2.2" fill="#000"/>
<circle cx="237.45" cy="501.63" r="2.2" fill="#000"/>
<circle cx="244.45" cy="502.11" r="2.2" fill="#000"/>
<circle cx="240.95" cy="503.54" r="2.2" fill="#000"/>
<circle cx="236.45" cy="506.41" r="2.2" fill="#000"/>
<circle cx="245.45" cy="506.41" r="2.2" fill="#000"/>
<circle cx="238.95" cy="508.8" r="2.2" fill="#000"/>
<circle cx="242.95" cy="509.28" r="2.2" fill="#000"/>
<rect x="255.35" y="499" width="11.4" height="57.6" fill="#f69a86" stroke="#ff2c10" stroke-width="1.9"/>
<line x1="261.05" y1="499" x2="261.05" y2="491.59" stroke="#ff8a78" stroke-width="1.0"/>
<line x1="258.05" y1="491.59" x2="264.05" y2="491.59" stroke="#ff8a78" stroke-width="1.0"/>
<circle cx="260.65" cy="486.81" r="2.2" fill="#ff2c10"/>
<circle cx="261.55" cy="492.07" r="2.2" fill="#ff2c10"/>
<circle cx="256.35" cy="495.66" r="2.2" fill="#ff2c10"/>
<circle cx="265.05" cy="492.79" r="2.2" fill="#ff2c10"/>
<circle cx="261.05" cy="501.39" r="2.2" fill="#ff2c10"/>
<circle cx="261.05" cy="514.3" r="2.2" fill="#ff2c10"/>
<circle cx="261.05" cy="520.03" r="2.2" fill="#ff2c10"/>
<circle cx="265.05" cy="522.9" r="2.2" fill="#ff2c10"/>
<circle cx="256.35" cy="526.01" r="2.2" fill="#ff2c10"/>
<rect x="275.85" y="504.98" width="11.4" height="51.62" fill="#fff" stroke="#000" stroke-width="1.9"/>
<line x1="281.55" y1="504.98" x2="281.55" y2="502.11" stroke="#444" stroke-width="1.0"/>
<line x1="278.55" y1="502.11" x2="284.55" y2="502.11" stroke="#444" stroke-width="1.0"/>
<circle cx="281.25" cy="499" r="2.2" fill="#000"/>
<circle cx="278.05" cy="503.06" r="2.2" fill="#000"/>
<circle cx="285.05" cy="503.06" r="2.2" fill="#000"/>
<circle cx="281.55" cy="504.02" r="2.2" fill="#000"/>
<circle cx="277.55" cy="506.89" r="2.2" fill="#000"/>
<circle cx="285.55" cy="506.89" r="2.2" fill="#000"/>
<circle cx="281.05" cy="511.91" r="2.2" fill="#000"/>
<rect x="296.35" y="487.29" width="11.4" height="69.31" fill="#fff" stroke="#ff2c10" stroke-width="1.9"/>
<line x1="302.05" y1="487.29" x2="302.05" y2="482.51" stroke="#ff2c10" stroke-width="1.0"/>
<line x1="299.05" y1="482.51" x2="305.05" y2="482.51" stroke="#ff2c10" stroke-width="1.0"/>
<circle cx="303.05" cy="478.21" r="2.2" fill="#ff2c10"/>
<circle cx="305.95" cy="481.08" r="2.2" fill="#ff2c10"/>
<circle cx="297.25" cy="482.27" r="2.2" fill="#ff2c10"/>
<circle cx="300.05" cy="482.51" r="2.2" fill="#ff2c10"/>
<circle cx="302.45" cy="485.14" r="2.2" fill="#ff2c10"/>
<circle cx="300.05" cy="489.2" r="2.2" fill="#ff2c10"/>
<circle cx="305.95" cy="494.94" r="2.2" fill="#ff2c10"/>
<circle cx="300.05" cy="494.94" r="2.2" fill="#ff2c10"/>
<circle cx="303.05" cy="497.33" r="2.2" fill="#ff2c10"/>
<circle cx="297.25" cy="499.72" r="2.2" fill="#ff2c10"/>
<line x1="37.4" y1="437.1" x2="37.4" y2="556.6" stroke="#000" stroke-width="1.3"/>
<line x1="31.1" y1="556.6" x2="38.05" y2="556.6" stroke="#000" stroke-width="1.3"/>
<text x="29.2" y="559.84" font-size="9.0" font-weight="bold" text-anchor="end" fill="#000">0</text>
<line x1="31.1" y1="532.7" x2="38.05" y2="532.7" stroke="#000" stroke-width="1.3"/>
<text x="29.2" y="535.94" font-size="9.0" font-weight="bold" text-anchor="end" fill="#000">1</text>
<line x1="31.1" y1="508.8" x2="38.05" y2="508.8" stroke="#000" stroke-width="1.3"/>
<text x="29.2" y="512.04" font-size="9.0" font-weight="bold" text-anchor="end" fill="#000">2</text>
<line x1="31.1" y1="484.9" x2="38.05" y2="484.9" stroke="#000" stroke-width="1.3"/>
<text x="29.2" y="488.14" font-size="9.0" font-weight="bold" text-anchor="end" fill="#000">3</text>
<line x1="31.1" y1="461" x2="38.05" y2="461" stroke="#000" stroke-width="1.3"/>
<text x="29.2" y="464.24" font-size="9.0" font-weight="bold" text-anchor="end" fill="#000">4</text>
<line x1="31.1" y1="437.1" x2="38.05" y2="437.1" stroke="#000" stroke-width="1.3"/>
<text x="29.2" y="440.34" font-size="9.0" font-weight="bold" text-anchor="end" fill="#000">5</text>
<line x1="36.75" y1="556.6" x2="314.5" y2="556.6" stroke="#000" stroke-width="1.3"/>
<path d="M50.7 479.3 L50.7 437.7 L112.6 437.7 L112.6 442.9" fill="none" stroke="#000" stroke-width="1.1"/>
<path d="M76.75 428.7 L77.44 430.01 L78.92 429.95 L78.12 431.2 L78.92 432.45 L77.44 432.39 L76.75 433.7 L76.06 432.39 L74.58 432.45 L75.38 431.2 L74.58 429.95 L76.06 430.01 Z" fill="#000"/>
<path d="M81.65 428.7 L82.34 430.01 L83.82 429.95 L83.03 431.2 L83.82 432.45 L82.34 432.39 L81.65 433.7 L80.96 432.39 L79.48 432.45 L80.28 431.2 L79.48 429.95 L80.96 430.01 Z" fill="#000"/>
<path d="M86.55 428.7 L87.24 430.01 L88.72 429.95 L87.93 431.2 L88.72 432.45 L87.24 432.39 L86.55 433.7 L85.86 432.39 L84.38 432.45 L85.18 431.2 L84.38 429.95 L85.86 430.01 Z" fill="#000"/>
<path d="M70.8 475.6 L70.8 450.6 L112.6 450.6 L112.6 456.2" fill="none" stroke="#000" stroke-width="1.1"/>
<path d="M89.25 441.5 L89.94 442.81 L91.42 442.75 L90.62 444 L91.42 445.25 L89.94 445.19 L89.25 446.5 L88.56 445.19 L87.08 445.25 L87.87 444 L87.08 442.75 L88.56 442.81 Z" fill="#000"/>
<path d="M94.15 441.5 L94.84 442.81 L96.32 442.75 L95.52 444 L96.32 445.25 L94.84 445.19 L94.15 446.5 L93.46 445.19 L91.98 445.25 L92.77 444 L91.98 442.75 L93.46 442.81 Z" fill="#000"/>
<path d="M91.6 485.7 L91.6 463.4 L112.6 463.4 L112.6 469.7" fill="none" stroke="#000" stroke-width="1.1"/>
<path d="M97.2 455.1 L97.89 456.41 L99.37 456.35 L98.57 457.6 L99.37 458.85 L97.89 458.79 L97.2 460.1 L96.51 458.79 L95.03 458.85 L95.82 457.6 L95.03 456.35 L96.51 456.41 Z" fill="#000"/>
<path d="M102.1 455.1 L102.79 456.41 L104.27 456.35 L103.47 457.6 L104.27 458.85 L102.79 458.79 L102.1 460.1 L101.41 458.79 L99.93 458.85 L100.72 457.6 L99.93 456.35 L101.41 456.41 Z" fill="#000"/>
<path d="M107 455.1 L107.69 456.41 L109.17 456.35 L108.38 457.6 L109.17 458.85 L107.69 458.79 L107 460.1 L106.31 458.79 L104.83 458.85 L105.62 457.6 L104.83 456.35 L106.31 456.41 Z" fill="#000"/>
<path d="M145.2 486.6 L145.2 457.3 L206.7 457.3 L206.7 463.6" fill="none" stroke="#000" stroke-width="1.1"/>
<path d="M173.5 449.8 L174.19 451.11 L175.67 451.05 L174.88 452.3 L175.67 453.55 L174.19 453.49 L173.5 454.8 L172.81 453.49 L171.33 453.55 L172.12 452.3 L171.33 451.05 L172.81 451.11 Z" fill="#000"/>
<path d="M178.4 449.8 L179.09 451.11 L180.57 451.05 L179.77 452.3 L180.57 453.55 L179.09 453.49 L178.4 454.8 L177.71 453.49 L176.23 453.55 L177.02 452.3 L176.23 451.05 L177.71 451.11 Z" fill="#000"/>
<path d="M186.6 492.6 L186.6 468.9 L206.7 468.9 L206.7 476" fill="none" stroke="#000" stroke-width="1.1"/>
<path d="M194.2 461.1 L194.89 462.41 L196.37 462.35 L195.57 463.6 L196.37 464.85 L194.89 464.79 L194.2 466.1 L193.51 464.79 L192.03 464.85 L192.82 463.6 L192.03 462.35 L193.51 462.41 Z" fill="#000"/>
<path d="M199.1 461.1 L199.79 462.41 L201.27 462.35 L200.47 463.6 L201.27 464.85 L199.79 464.79 L199.1 466.1 L198.41 464.79 L196.93 464.85 L197.72 463.6 L196.93 462.35 L198.41 462.41 Z" fill="#000"/>
<path d="M240.6 491 L240.6 444.2 L301.8 444.2 L301.8 450.2" fill="none" stroke="#000" stroke-width="1.1"/>
<path d="M266.3 435.7 L266.99 437.01 L268.47 436.95 L267.68 438.2 L268.47 439.45 L266.99 439.39 L266.3 440.7 L265.61 439.39 L264.13 439.45 L264.93 438.2 L264.13 436.95 L265.61 437.01 Z" fill="#000"/>
<path d="M271.2 435.7 L271.89 437.01 L273.37 436.95 L272.57 438.2 L273.37 439.45 L271.89 439.39 L271.2 440.7 L270.51 439.39 L269.03 439.45 L269.82 438.2 L269.03 436.95 L270.51 437.01 Z" fill="#000"/>
<path d="M276.1 435.7 L276.79 437.01 L278.27 436.95 L277.47 438.2 L278.27 439.45 L276.79 439.39 L276.1 440.7 L275.41 439.39 L273.93 439.45 L274.72 438.2 L273.93 436.95 L275.41 437.01 Z" fill="#000"/>
<path d="M260.8 479.9 L260.8 455.5 L301.8 455.5 L301.8 461" fill="none" stroke="#000" stroke-width="1.1"/>
<path d="M278.85 447 L279.54 448.31 L281.02 448.25 L280.23 449.5 L281.02 450.75 L279.54 450.69 L278.85 452 L278.16 450.69 L276.68 450.75 L277.48 449.5 L276.68 448.25 L278.16 448.31 Z" fill="#000"/>
<path d="M283.75 447 L284.44 448.31 L285.92 448.25 L285.12 449.5 L285.92 450.75 L284.44 450.69 L283.75 452 L283.06 450.69 L281.58 450.75 L282.38 449.5 L281.58 448.25 L283.06 448.31 Z" fill="#000"/>
<path d="M281.3 493.3 L281.3 466.5 L301.8 466.5 L301.8 472" fill="none" stroke="#000" stroke-width="1.1"/>
<path d="M286.65 458.3 L287.34 459.61 L288.82 459.55 L288.03 460.8 L288.82 462.05 L287.34 461.99 L286.65 463.3 L285.96 461.99 L284.48 462.05 L285.28 460.8 L284.48 459.55 L285.96 459.61 Z" fill="#000"/>
<path d="M291.55 458.3 L292.24 459.61 L293.72 459.55 L292.93 460.8 L293.72 462.05 L292.24 461.99 L291.55 463.3 L290.86 461.99 L289.38 462.05 L290.18 460.8 L289.38 459.55 L290.86 459.61 Z" fill="#000"/>
<path d="M296.45 458.3 L297.14 459.61 L298.62 459.55 L297.82 460.8 L298.62 462.05 L297.14 461.99 L296.45 463.3 L295.76 461.99 L294.28 462.05 L295.07 460.8 L294.28 459.55 L295.76 459.61 Z" fill="#000"/>
<text x="52.85" y="563.6" font-size="9.2" font-weight="bold" text-anchor="end" fill="#000" transform="rotate(-45 52.85 563.6)">PBS+diluent</text>
<text x="73.35" y="563.6" font-size="9.2" font-weight="bold" text-anchor="end" fill="#000" transform="rotate(-45 73.35 563.6)">PBS+IL7</text>
<text x="93.75" y="563.6" font-size="9.2" font-weight="bold" text-anchor="end" fill="#000" transform="rotate(-45 93.75 563.6)">ZIKV+diluent</text>
<text x="113.55" y="563.6" font-size="9.2" font-weight="bold" text-anchor="end" fill="#000" transform="rotate(-45 113.55 563.6)">ZIKV+IL7</text>
<text x="147.25" y="563.6" font-size="9.2" font-weight="bold" text-anchor="end" fill="#000" transform="rotate(-45 147.25 563.6)">PBS+diluent</text>
<text x="167.75" y="563.6" font-size="9.2" font-weight="bold" text-anchor="end" fill="#000" transform="rotate(-45 167.75 563.6)">PBS+IL7</text>
<text x="187.95" y="563.6" font-size="9.2" font-weight="bold" text-anchor="end" fill="#000" transform="rotate(-45 187.95 563.6)">ZIKV+diluent</text>
<text x="208.45" y="563.6" font-size="9.2" font-weight="bold" text-anchor="end" fill="#000" transform="rotate(-45 208.45 563.6)">ZIKV+IL7</text>
<text x="242.75" y="563.6" font-size="9.2" font-weight="bold" text-anchor="end" fill="#000" transform="rotate(-45 242.75 563.6)">PBS+diluent</text>
<text x="262.85" y="563.6" font-size="9.2" font-weight="bold" text-anchor="end" fill="#000" transform="rotate(-45 262.85 563.6)">PBS+IL7</text>
<text x="283.35" y="563.6" font-size="9.2" font-weight="bold" text-anchor="end" fill="#000" transform="rotate(-45 283.35 563.6)">ZIKV+diluent</text>
<text x="303.85" y="563.6" font-size="9.2" font-weight="bold" text-anchor="end" fill="#000" transform="rotate(-45 303.85 563.6)">ZIKV+IL7</text>
<line x1="14" y1="609.6" x2="96" y2="609.6" stroke="#000" stroke-width="1.1"/>
<text x="55" y="619.2" font-size="8.8" font-weight="bold" text-anchor="middle" fill="#000">CD3<tspan dy="-3.4" font-size="5.4">+</tspan></text>
<line x1="109.3" y1="609.6" x2="190.1" y2="609.6" stroke="#000" stroke-width="1.1"/>
<text x="149.7" y="619.2" font-size="8.8" font-weight="bold" text-anchor="middle" fill="#000">CD4<tspan dy="-3.4" font-size="5.4">+</tspan></text>
<line x1="204.2" y1="609.6" x2="285.5" y2="609.6" stroke="#000" stroke-width="1.1"/>
<text x="244.85" y="619.2" font-size="8.8" font-weight="bold" text-anchor="middle" fill="#000">CD8<tspan dy="-3.4" font-size="5.4">+</tspan></text>
<text x="362.3" y="414.9" font-size="11.8" font-weight="bold" text-anchor="start" fill="#000">I</text>
<text x="466" y="418.2" font-size="11.2" font-weight="bold" text-anchor="start" fill="#000">Day 21 SB28 Peripheral blood</text>
<text x="381" y="498" font-size="9.7" font-weight="bold" text-anchor="middle" fill="#000" transform="rotate(-90 381 498)">% of CD8<tspan dy="-3.39" font-size="5.82">+</tspan><tspan dy="3.39"> cells</tspan></text>
<rect x="411.45" y="544.26" width="11.1" height="11.94" fill="#707070" stroke="#000" stroke-width="1.9"/>
<line x1="417" y1="544.26" x2="417" y2="535.11" stroke="#000" stroke-width="1.0"/>
<line x1="414" y1="535.11" x2="420" y2="535.11" stroke="#000" stroke-width="1.0"/>
<circle cx="412.5" cy="532.32" r="2.2" fill="#000"/>
<circle cx="418" cy="532.32" r="2.2" fill="#000"/>
<circle cx="421.5" cy="535.5" r="2.2" fill="#000"/>
<circle cx="412.5" cy="536.3" r="2.2" fill="#000"/>
<circle cx="417" cy="542.67" r="2.2" fill="#000"/>
<circle cx="412.5" cy="552.22" r="2.2" fill="#000"/>
<circle cx="421.5" cy="552.22" r="2.2" fill="#000"/>
<circle cx="417" cy="553.81" r="2.2" fill="#000"/>
<rect x="432.15" y="540.28" width="11.1" height="15.92" fill="#f4a38e" stroke="#e8342b" stroke-width="1.9"/>
<line x1="437.7" y1="540.28" x2="437.7" y2="523.17" stroke="#f07b70" stroke-width="1.0"/>
<line x1="434.7" y1="523.17" x2="440.7" y2="523.17" stroke="#f07b70" stroke-width="1.0"/>
<circle cx="434.7" cy="512.82" r="2.2" fill="#e8342b"/>
<circle cx="437.7" cy="516.8" r="2.2" fill="#e8342b"/>
<circle cx="437.3" cy="529.93" r="2.2" fill="#e8342b"/>
<circle cx="437.3" cy="536.3" r="2.2" fill="#e8342b"/>
<circle cx="434.2" cy="551.42" r="2.2" fill="#e8342b"/>
<circle cx="437.7" cy="552.22" r="2.2" fill="#e8342b"/>
<circle cx="441.2" cy="551.42" r="2.2" fill="#e8342b"/>
<circle cx="435.7" cy="554.21" r="2.2" fill="#e8342b"/>
<circle cx="439.7" cy="554.21" r="2.2" fill="#e8342b"/>
<rect x="452.55" y="514.01" width="11.1" height="42.19" fill="#fff" stroke="#000" stroke-width="1.9"/>
<line x1="458.1" y1="514.01" x2="458.1" y2="498.09" stroke="#444" stroke-width="1.0"/>
<line x1="455.1" y1="498.09" x2="461.1" y2="498.09" stroke="#444" stroke-width="1.0"/>
<circle cx="457.6" cy="485.75" r="2.2" fill="#000"/>
<circle cx="455.4" cy="502.47" r="2.2" fill="#000"/>
<circle cx="459.9" cy="504.46" r="2.2" fill="#000"/>
<circle cx="453.4" cy="514.01" r="2.2" fill="#000"/>
<circle cx="458.1" cy="517.99" r="2.2" fill="#000"/>
<circle cx="453.4" cy="528.74" r="2.2" fill="#000"/>
<circle cx="458.1" cy="526.75" r="2.2" fill="#000"/>
<circle cx="462.5" cy="527.94" r="2.2" fill="#000"/>
<rect x="472.45" y="491.72" width="11.1" height="64.48" fill="#fff" stroke="#e8342b" stroke-width="1.9"/>
<line x1="478" y1="491.72" x2="478" y2="465.46" stroke="#f3a09a" stroke-width="1.0"/>
<line x1="475" y1="465.46" x2="481" y2="465.46" stroke="#f3a09a" stroke-width="1.0"/>
<circle cx="475.5" cy="453.52" r="2.2" fill="#e8342b"/>
<circle cx="480.5" cy="452.32" r="2.2" fill="#e8342b"/>
<circle cx="473.5" cy="481.38" r="2.2" fill="#e8342b"/>
<circle cx="478" cy="482.57" r="2.2" fill="#e8342b"/>
<circle cx="473.5" cy="485.75" r="2.2" fill="#e8342b"/>
<circle cx="482.5" cy="485.75" r="2.2" fill="#e8342b"/>
<circle cx="473.5" cy="514.01" r="2.2" fill="#e8342b"/>
<circle cx="478" cy="516.8" r="2.2" fill="#e8342b"/>
<circle cx="481.9" cy="518.79" r="2.2" fill="#e8342b"/>
<circle cx="473.5" cy="521.97" r="2.2" fill="#e8342b"/>
<rect x="505.65" y="554.21" width="11.1" height="1.99" fill="#707070" stroke="#000" stroke-width="1.9"/>
<line x1="511.2" y1="554.21" x2="511.2" y2="553.02" stroke="#000" stroke-width="1.0"/>
<line x1="508.2" y1="553.02" x2="514.2" y2="553.02" stroke="#000" stroke-width="1.0"/>
<circle cx="507.2" cy="552.62" r="2.2" fill="#000"/>
<circle cx="509.7" cy="551.42" r="2.2" fill="#000"/>
<circle cx="512.7" cy="552.62" r="2.2" fill="#000"/>
<circle cx="515.2" cy="553.81" r="2.2" fill="#000"/>
<circle cx="511.2" cy="555.01" r="2.2" fill="#000"/>
<circle cx="508.2" cy="555.4" r="2.2" fill="#000"/>
<circle cx="514.2" cy="555.4" r="2.2" fill="#000"/>
<rect x="525.95" y="553.02" width="11.1" height="3.18" fill="#f4a38e" stroke="#e8342b" stroke-width="1.9"/>
<line x1="531.5" y1="553.02" x2="531.5" y2="551.42" stroke="#f07b70" stroke-width="1.0"/>
<line x1="528.5" y1="551.42" x2="534.5" y2="551.42" stroke="#f07b70" stroke-width="1.0"/>
<circle cx="527.5" cy="552.22" r="2.2" fill="#e8342b"/>
<circle cx="530" cy="550.63" r="2.2" fill="#e8342b"/>
<circle cx="533" cy="549.83" r="2.2" fill="#e8342b"/>
<circle cx="535.5" cy="552.22" r="2.2" fill="#e8342b"/>
<circle cx="531.5" cy="554.21" r="2.2" fill="#e8342b"/>
<circle cx="528.5" cy="555.01" r="2.2" fill="#e8342b"/>
<circle cx="534.5" cy="555.01" r="2.2" fill="#e8342b"/>
<circle cx="531.5" cy="552.22" r="2.2" fill="#e8342b"/>
<rect x="546.55" y="537.3" width="11.1" height="18.9" fill="#fff" stroke="#000" stroke-width="1.9"/>
<line x1="552.1" y1="537.3" x2="552.1" y2="524.36" stroke="#444" stroke-width="1.0"/>
<line x1="549.1" y1="524.36" x2="555.1" y2="524.36" stroke="#444" stroke-width="1.0"/>
<circle cx="547.7" cy="515.21" r="2.2" fill="#000"/>
<circle cx="553.3" cy="519.58" r="2.2" fill="#000"/>
<circle cx="549.1" cy="537.49" r="2.2" fill="#000"/>
<circle cx="554.6" cy="538.69" r="2.2" fill="#000"/>
<circle cx="549.7" cy="543.46" r="2.2" fill="#000"/>
<circle cx="554.1" cy="544.26" r="2.2" fill="#000"/>
<circle cx="551.3" cy="549.04" r="2.2" fill="#000"/>
<rect x="566.75" y="519.19" width="11.1" height="37.01" fill="#fff" stroke="#e8342b" stroke-width="1.9"/>
<line x1="572.3" y1="519.19" x2="572.3" y2="498.09" stroke="#f3a09a" stroke-width="1.0"/>
<line x1="569.3" y1="498.09" x2="575.3" y2="498.09" stroke="#f3a09a" stroke-width="1.0"/>
<circle cx="572.7" cy="483.37" r="2.2" fill="#e8342b"/>
<circle cx="572.7" cy="490.13" r="2.2" fill="#e8342b"/>
<circle cx="569.9" cy="506.85" r="2.2" fill="#e8342b"/>
<circle cx="575.4" cy="505.26" r="2.2" fill="#e8342b"/>
<circle cx="574.8" cy="515.21" r="2.2" fill="#e8342b"/>
<circle cx="569.9" cy="520.78" r="2.2" fill="#e8342b"/>
<circle cx="575.4" cy="520.78" r="2.2" fill="#e8342b"/>
<circle cx="575.4" cy="530.33" r="2.2" fill="#e8342b"/>
<circle cx="569.4" cy="534.71" r="2.2" fill="#e8342b"/>
<circle cx="576.8" cy="538.69" r="2.2" fill="#e8342b"/>
<circle cx="568.8" cy="543.07" r="2.2" fill="#e8342b"/>
<rect x="601.55" y="552.22" width="11.1" height="3.98" fill="#707070" stroke="#000" stroke-width="1.9"/>
<line x1="607.1" y1="552.22" x2="607.1" y2="550.23" stroke="#000" stroke-width="1.0"/>
<line x1="604.1" y1="550.23" x2="610.1" y2="550.23" stroke="#000" stroke-width="1.0"/>
<circle cx="603.1" cy="552.62" r="2.2" fill="#000"/>
<circle cx="605.6" cy="549.83" r="2.2" fill="#000"/>
<circle cx="608.6" cy="552.22" r="2.2" fill="#000"/>
<circle cx="611.1" cy="553.81" r="2.2" fill="#000"/>
<circle cx="607.1" cy="545.45" r="2.2" fill="#000"/>
<circle cx="604.1" cy="555.01" r="2.2" fill="#000"/>
<circle cx="610.1" cy="555.01" r="2.2" fill="#000"/>
<circle cx="607.1" cy="554.21" r="2.2" fill="#000"/>
<circle cx="602.1" cy="554.61" r="2.2" fill="#000"/>
<rect x="621.85" y="540.28" width="11.1" height="15.92" fill="#f4a38e" stroke="#e8342b" stroke-width="1.9"/>
<line x1="627.4" y1="540.28" x2="627.4" y2="523.96" stroke="#f07b70" stroke-width="1.0"/>
<line x1="624.4" y1="523.96" x2="630.4" y2="523.96" stroke="#f07b70" stroke-width="1.0"/>
<circle cx="625.7" cy="513.22" r="2.2" fill="#e8342b"/>
<circle cx="628.6" cy="512.42" r="2.2" fill="#e8342b"/>
<circle cx="628.9" cy="532.72" r="2.2" fill="#e8342b"/>
<circle cx="626.5" cy="535.9" r="2.2" fill="#e8342b"/>
<circle cx="625.4" cy="550.23" r="2.2" fill="#e8342b"/>
<circle cx="629.4" cy="551.42" r="2.2" fill="#e8342b"/>
<circle cx="623.9" cy="554.21" r="2.2" fill="#e8342b"/>
<circle cx="630.9" cy="554.21" r="2.2" fill="#e8342b"/>
<circle cx="627.4" cy="553.81" r="2.2" fill="#e8342b"/>
<rect x="642.45" y="535.9" width="11.1" height="20.3" fill="#fff" stroke="#000" stroke-width="1.9"/>
<line x1="648" y1="535.9" x2="648" y2="528.74" stroke="#444" stroke-width="1.0"/>
<line x1="645" y1="528.74" x2="651" y2="528.74" stroke="#444" stroke-width="1.0"/>
<circle cx="646.9" cy="522.37" r="2.2" fill="#000"/>
<circle cx="645.3" cy="529.53" r="2.2" fill="#000"/>
<circle cx="649.3" cy="531.13" r="2.2" fill="#000"/>
<circle cx="646.9" cy="535.9" r="2.2" fill="#000"/>
<circle cx="643.3" cy="537.49" r="2.2" fill="#000"/>
<circle cx="648.5" cy="539.88" r="2.2" fill="#000"/>
<circle cx="646.9" cy="548.64" r="2.2" fill="#000"/>
<rect x="662.45" y="524.76" width="11.1" height="31.44" fill="#fff" stroke="#e8342b" stroke-width="1.9"/>
<line x1="668" y1="524.76" x2="668" y2="514.41" stroke="#f3a09a" stroke-width="1.0"/>
<line x1="665" y1="514.41" x2="671" y2="514.41" stroke="#f3a09a" stroke-width="1.0"/>
<circle cx="663.4" cy="514.01" r="2.2" fill="#e8342b"/>
<circle cx="667.9" cy="513.22" r="2.2" fill="#e8342b"/>
<circle cx="672.4" cy="514.01" r="2.2" fill="#e8342b"/>
<circle cx="666.3" cy="517.2" r="2.2" fill="#e8342b"/>
<circle cx="669.5" cy="517.99" r="2.2" fill="#e8342b"/>
<circle cx="668" cy="521.18" r="2.2" fill="#e8342b"/>
<circle cx="668" cy="528.74" r="2.2" fill="#e8342b"/>
<circle cx="669.5" cy="534.31" r="2.2" fill="#e8342b"/>
<circle cx="665.4" cy="539.09" r="2.2" fill="#e8342b"/>
<line x1="403.7" y1="436.8" x2="403.7" y2="556.2" stroke="#000" stroke-width="1.3"/>
<line x1="397.4" y1="556.2" x2="404.35" y2="556.2" stroke="#000" stroke-width="1.3"/>
<text x="395.5" y="559.44" font-size="9.0" font-weight="bold" text-anchor="end" fill="#000">0</text>
<line x1="397.4" y1="516.4" x2="404.35" y2="516.4" stroke="#000" stroke-width="1.3"/>
<text x="395.5" y="519.64" font-size="9.0" font-weight="bold" text-anchor="end" fill="#000">10</text>
<line x1="397.4" y1="476.6" x2="404.35" y2="476.6" stroke="#000" stroke-width="1.3"/>
<text x="395.5" y="479.84" font-size="9.0" font-weight="bold" text-anchor="end" fill="#000">20</text>
<line x1="397.4" y1="436.8" x2="404.35" y2="436.8" stroke="#000" stroke-width="1.3"/>
<text x="395.5" y="440.04" font-size="9.0" font-weight="bold" text-anchor="end" fill="#000">30</text>
<line x1="403.05" y1="556.2" x2="680.7" y2="556.2" stroke="#000" stroke-width="1.3"/>
<path d="M416.4 452.5 L416.4 430.9 L477.3 430.9 L477.3 436.6" fill="none" stroke="#000" stroke-width="1.1"/>
<path d="M439.5 422.3 L440.19 423.61 L441.67 423.55 L440.88 424.8 L441.67 426.05 L440.19 425.99 L439.5 427.3 L438.81 425.99 L437.33 426.05 L438.12 424.8 L437.33 423.55 L438.81 423.61 Z" fill="#000"/>
<path d="M444.4 422.3 L445.09 423.61 L446.57 423.55 L445.78 424.8 L446.57 426.05 L445.09 425.99 L444.4 427.3 L443.71 425.99 L442.23 426.05 L443.03 424.8 L442.23 423.55 L443.71 423.61 Z" fill="#000"/>
<path d="M449.3 422.3 L449.99 423.61 L451.47 423.55 L450.68 424.8 L451.47 426.05 L449.99 425.99 L449.3 427.3 L448.61 425.99 L447.13 426.05 L447.93 424.8 L447.13 423.55 L448.61 423.61 Z" fill="#000"/>
<path d="M454.2 422.3 L454.89 423.61 L456.37 423.55 L455.58 424.8 L456.37 426.05 L454.89 425.99 L454.2 427.3 L453.51 425.99 L452.03 426.05 L452.83 424.8 L452.03 423.55 L453.51 423.61 Z" fill="#000"/>
<path d="M436.8 447.8 L436.8 443.6 L477.3 443.6 L477.3 447.8" fill="none" stroke="#000" stroke-width="1.1"/>
<path d="M449.7 434.8 L450.39 436.11 L451.87 436.05 L451.07 437.3 L451.87 438.55 L450.39 438.49 L449.7 439.8 L449.01 438.49 L447.53 438.55 L448.32 437.3 L447.53 436.05 L449.01 436.11 Z" fill="#000"/>
<path d="M454.6 434.8 L455.29 436.11 L456.77 436.05 L455.98 437.3 L456.77 438.55 L455.29 438.49 L454.6 439.8 L453.91 438.49 L452.43 438.55 L453.23 437.3 L452.43 436.05 L453.91 436.11 Z" fill="#000"/>
<path d="M459.5 434.8 L460.19 436.11 L461.67 436.05 L460.88 437.3 L461.67 438.55 L460.19 438.49 L459.5 439.8 L458.81 438.49 L457.33 438.55 L458.12 437.3 L457.33 436.05 L458.81 436.11 Z" fill="#000"/>
<path d="M464.4 434.8 L465.09 436.11 L466.57 436.05 L465.78 437.3 L466.57 438.55 L465.09 438.49 L464.4 439.8 L463.71 438.49 L462.23 438.55 L463.03 437.3 L462.23 436.05 L463.71 436.11 Z" fill="#000"/>
<path d="M416.4 523.3 L416.4 461.2 L457.4 461.2 L457.4 467" fill="none" stroke="#000" stroke-width="1.1"/>
<path d="M436.9 451.9 L437.59 453.21 L439.07 453.15 L438.27 454.4 L439.07 455.65 L437.59 455.59 L436.9 456.9 L436.21 455.59 L434.73 455.65 L435.52 454.4 L434.73 453.15 L436.21 453.21 Z" fill="#000"/>
<path d="M436.8 504 L436.8 474.8 L457.4 474.8 L457.4 480.2" fill="none" stroke="#000" stroke-width="1.1"/>
<path d="M447.1 465.9 L447.79 467.21 L449.27 467.15 L448.48 468.4 L449.27 469.65 L447.79 469.59 L447.1 470.9 L446.41 469.59 L444.93 469.65 L445.73 468.4 L444.93 467.15 L446.41 467.21 Z" fill="#000"/>
<path d="M511.6 542.9 L511.6 446.4 L573.5 446.4 L573.5 452.2" fill="none" stroke="#000" stroke-width="1.1"/>
<path d="M535.2 437.8 L535.89 439.11 L537.37 439.05 L536.57 440.3 L537.37 441.55 L535.89 441.49 L535.2 442.8 L534.51 441.49 L533.03 441.55 L533.82 440.3 L533.03 439.05 L534.51 439.11 Z" fill="#000"/>
<path d="M540.1 437.8 L540.79 439.11 L542.27 439.05 L541.47 440.3 L542.27 441.55 L540.79 441.49 L540.1 442.8 L539.41 441.49 L537.93 441.55 L538.72 440.3 L537.93 439.05 L539.41 439.11 Z" fill="#000"/>
<path d="M545 437.8 L545.69 439.11 L547.17 439.05 L546.38 440.3 L547.17 441.55 L545.69 441.49 L545 442.8 L544.31 441.49 L542.83 441.55 L543.62 440.3 L542.83 439.05 L544.31 439.11 Z" fill="#000"/>
<path d="M549.9 437.8 L550.59 439.11 L552.07 439.05 L551.27 440.3 L552.07 441.55 L550.59 441.49 L549.9 442.8 L549.21 441.49 L547.73 441.55 L548.52 440.3 L547.73 439.05 L549.21 439.11 Z" fill="#000"/>
<path d="M531.9 542.9 L531.9 460.2 L573.5 460.2 L573.5 466" fill="none" stroke="#000" stroke-width="1.1"/>
<path d="M545.35 451.2 L546.04 452.51 L547.52 452.45 L546.73 453.7 L547.52 454.95 L546.04 454.89 L545.35 456.2 L544.66 454.89 L543.18 454.95 L543.98 453.7 L543.18 452.45 L544.66 452.51 Z" fill="#000"/>
<path d="M550.25 451.2 L550.94 452.51 L552.42 452.45 L551.62 453.7 L552.42 454.95 L550.94 454.89 L550.25 456.2 L549.56 454.89 L548.08 454.95 L548.88 453.7 L548.08 452.45 L549.56 452.51 Z" fill="#000"/>
<path d="M555.15 451.2 L555.84 452.51 L557.32 452.45 L556.53 453.7 L557.32 454.95 L555.84 454.89 L555.15 456.2 L554.46 454.89 L552.98 454.95 L553.78 453.7 L552.98 452.45 L554.46 452.51 Z" fill="#000"/>
<path d="M560.05 451.2 L560.74 452.51 L562.22 452.45 L561.43 453.7 L562.22 454.95 L560.74 454.89 L560.05 456.2 L559.36 454.89 L557.88 454.95 L558.68 453.7 L557.88 452.45 L559.36 452.51 Z" fill="#000"/>
<path d="M552.7 512.4 L552.7 472.7 L573.5 472.7 L573.5 477.7" fill="none" stroke="#000" stroke-width="1.1"/>
<path d="M563.1 464.2 L563.79 465.51 L565.27 465.45 L564.48 466.7 L565.27 467.95 L563.79 467.89 L563.1 469.2 L562.41 467.89 L560.93 467.95 L561.73 466.7 L560.93 465.45 L562.41 465.51 Z" fill="#000"/>
<path d="M607.3 499.6 L607.3 474.5 L667.9 474.5 L667.9 480.7" fill="none" stroke="#000" stroke-width="1.1"/>
<path d="M630.25 465.3 L630.94 466.61 L632.42 466.55 L631.62 467.8 L632.42 469.05 L630.94 468.99 L630.25 470.3 L629.56 468.99 L628.08 469.05 L628.87 467.8 L628.08 466.55 L629.56 466.61 Z" fill="#000"/>
<path d="M635.15 465.3 L635.84 466.61 L637.32 466.55 L636.52 467.8 L637.32 469.05 L635.84 468.99 L635.15 470.3 L634.46 468.99 L632.98 469.05 L633.77 467.8 L632.98 466.55 L634.46 466.61 Z" fill="#000"/>
<path d="M640.05 465.3 L640.74 466.61 L642.22 466.55 L641.42 467.8 L642.22 469.05 L640.74 468.99 L640.05 470.3 L639.36 468.99 L637.88 469.05 L638.67 467.8 L637.88 466.55 L639.36 466.61 Z" fill="#000"/>
<path d="M644.95 465.3 L645.64 466.61 L647.12 466.55 L646.32 467.8 L647.12 469.05 L645.64 468.99 L644.95 470.3 L644.26 468.99 L642.78 469.05 L643.57 467.8 L642.78 466.55 L644.26 466.61 Z" fill="#000"/>
<path d="M627.1 492.3 L627.1 487.1 L667.9 487.1 L667.9 506.9" fill="none" stroke="#000" stroke-width="1.1"/>
<path d="M647.5 477.7 L648.19 479.01 L649.67 478.95 L648.88 480.2 L649.67 481.45 L648.19 481.39 L647.5 482.7 L646.81 481.39 L645.33 481.45 L646.12 480.2 L645.33 478.95 L646.81 479.01 Z" fill="#000"/>
<path d="M607.3 538.4 L607.3 506.5 L647.7 506.5 L647.7 513.3" fill="none" stroke="#000" stroke-width="1.1"/>
<path d="M627.5 497.1 L628.19 498.41 L629.67 498.35 L628.88 499.6 L629.67 500.85 L628.19 500.79 L627.5 502.1 L626.81 500.79 L625.33 500.85 L626.12 499.6 L625.33 498.35 L626.81 498.41 Z" fill="#000"/>
<text x="418.8" y="563.2" font-size="9.2" font-weight="bold" text-anchor="end" fill="#000" transform="rotate(-45 418.8 563.2)">PBS+diluent</text>
<text x="439.5" y="563.2" font-size="9.2" font-weight="bold" text-anchor="end" fill="#000" transform="rotate(-45 439.5 563.2)">PBS+IL7</text>
<text x="459.9" y="563.2" font-size="9.2" font-weight="bold" text-anchor="end" fill="#000" transform="rotate(-45 459.9 563.2)">ZIKV+diluent</text>
<text x="479.8" y="563.2" font-size="9.2" font-weight="bold" text-anchor="end" fill="#000" transform="rotate(-45 479.8 563.2)">ZIKV+IL7</text>
<text x="513" y="563.2" font-size="9.2" font-weight="bold" text-anchor="end" fill="#000" transform="rotate(-45 513 563.2)">PBS+diluent</text>
<text x="533.3" y="563.2" font-size="9.2" font-weight="bold" text-anchor="end" fill="#000" transform="rotate(-45 533.3 563.2)">PBS+IL7</text>
<text x="553.9" y="563.2" font-size="9.2" font-weight="bold" text-anchor="end" fill="#000" transform="rotate(-45 553.9 563.2)">ZIKV+diluent</text>
<text x="574.1" y="563.2" font-size="9.2" font-weight="bold" text-anchor="end" fill="#000" transform="rotate(-45 574.1 563.2)">ZIKV+IL7</text>
<text x="608.9" y="563.2" font-size="9.2" font-weight="bold" text-anchor="end" fill="#000" transform="rotate(-45 608.9 563.2)">PBS+diluent</text>
<text x="629.2" y="563.2" font-size="9.2" font-weight="bold" text-anchor="end" fill="#000" transform="rotate(-45 629.2 563.2)">PBS+IL7</text>
<text x="649.8" y="563.2" font-size="9.2" font-weight="bold" text-anchor="end" fill="#000" transform="rotate(-45 649.8 563.2)">ZIKV+diluent</text>
<text x="669.8" y="563.2" font-size="9.2" font-weight="bold" text-anchor="end" fill="#000" transform="rotate(-45 669.8 563.2)">ZIKV+IL7</text>
<line x1="380.6" y1="609.6" x2="462.2" y2="609.6" stroke="#000" stroke-width="1.1"/>
<text x="421.4" y="619.2" font-size="8.8" font-weight="bold" text-anchor="middle" fill="#000">PD-1<tspan dy="-3.4" font-size="5.4">+</tspan></text>
<line x1="475.8" y1="609.6" x2="557.5" y2="609.6" stroke="#000" stroke-width="1.1"/>
<text x="516.65" y="619.2" font-size="8.8" font-weight="bold" text-anchor="middle" fill="#000">TIM-3<tspan dy="-3.4" font-size="5.4">+</tspan></text>
<line x1="570.2" y1="609.6" x2="652.8" y2="609.6" stroke="#000" stroke-width="1.1"/>
<text x="611.5" y="619.2" font-size="8.8" font-weight="bold" text-anchor="middle" fill="#000">LAG-3<tspan dy="-3.4" font-size="5.4">+</tspan></text>
</svg></body></html>
